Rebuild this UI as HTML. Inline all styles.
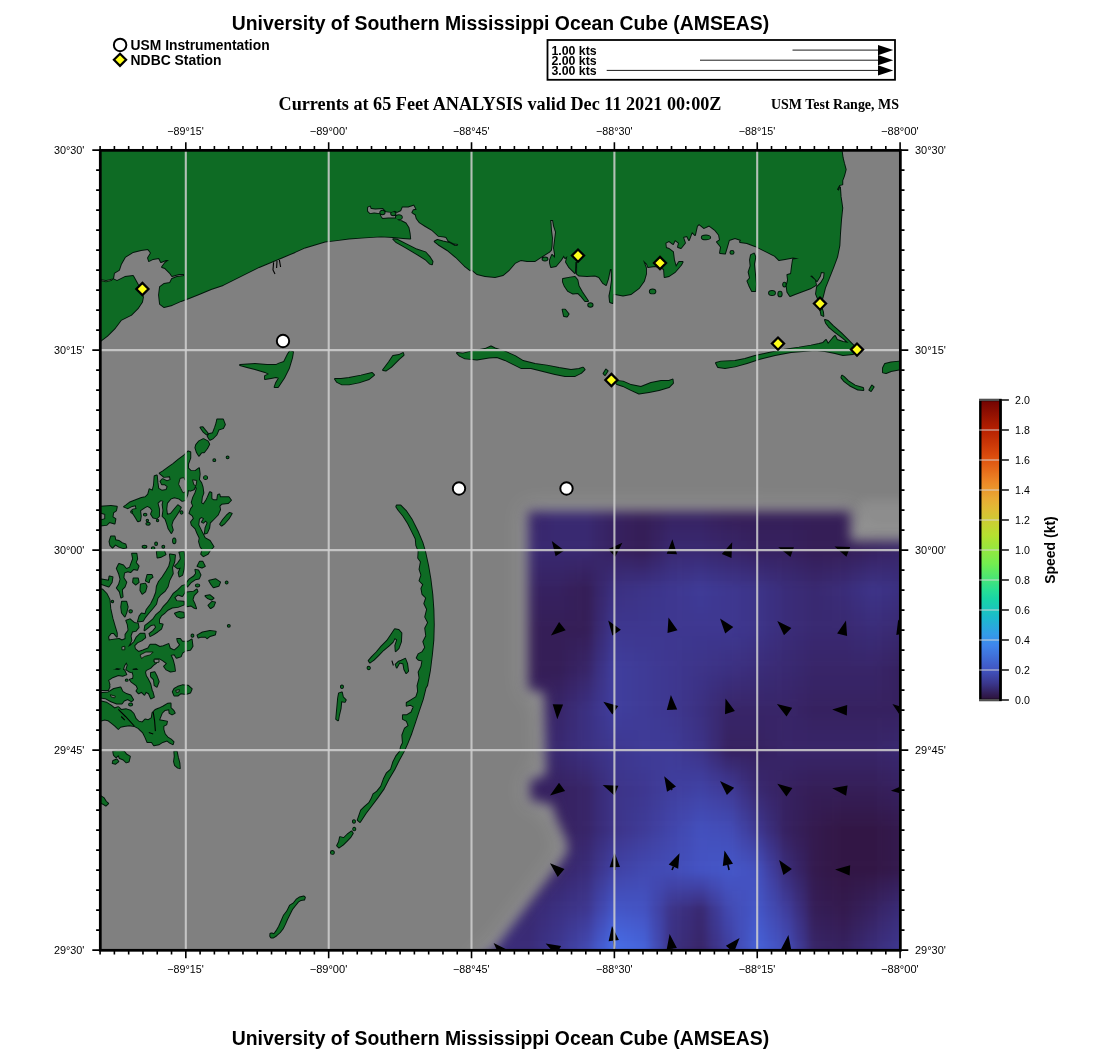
<!DOCTYPE html>
<html><head><meta charset="utf-8"><title>USM Ocean Cube</title>
<style>
html,body{margin:0;padding:0;background:#fff;}
body{width:1100px;height:1050px;overflow:hidden;position:relative;font-family:"Liberation Sans",sans-serif;}
svg{position:absolute;left:0;top:0;}
.t{font-family:"Liberation Sans",sans-serif;font-weight:bold;fill:#000;}
.s{font-family:"Liberation Serif",serif;font-weight:bold;fill:#000;}
.a{font-family:"Liberation Sans",sans-serif;font-size:10.8px;fill:#000;}
</style></head><body>
<svg width="1100" height="1050" viewBox="0 0 1100 1050">
<rect width="1100" height="1050" fill="#fff"/>
<text class="t" x="231.7" y="30.2" font-size="19.4" textLength="537.5" lengthAdjust="spacingAndGlyphs">University of Southern Mississippi Ocean Cube (AMSEAS)</text>
<text class="t" x="231.7" y="1045.2" font-size="19.4" textLength="537.5" lengthAdjust="spacingAndGlyphs">University of Southern Mississippi Ocean Cube (AMSEAS)</text>
<circle cx="120.1" cy="44.9" r="6.25" fill="#fff" stroke="#000" stroke-width="1.95"/>
<path d="M120 53.7L126.1 59.8L120 65.9L113.9 59.8Z" fill="#ffff1a" stroke="#000" stroke-width="2.2"/>
<text class="t" x="130.6" y="50.3" font-size="13.8" textLength="139" lengthAdjust="spacingAndGlyphs">USM Instrumentation</text>
<text class="t" x="130.6" y="64.8" font-size="13.8" textLength="91" lengthAdjust="spacingAndGlyphs">NDBC Station</text>
<rect x="547.5" y="40" width="347.5" height="39.8" fill="#fff" stroke="#000" stroke-width="1.8"/>
<text class="t" x="551.4" y="54.9" font-size="12.35" textLength="45.3" lengthAdjust="spacingAndGlyphs">1.00 kts</text>
<path d="M792.5 50.1H882" stroke="#000" stroke-width="0.9" fill="none"/>
<path d="M893.2 50.1L878 45.0V55.2Z" fill="#000"/>
<text class="t" x="551.4" y="64.9" font-size="12.35" textLength="45.3" lengthAdjust="spacingAndGlyphs">2.00 kts</text>
<path d="M700.0 60.2H882" stroke="#000" stroke-width="0.9" fill="none"/>
<path d="M893.2 60.2L878 55.1V65.3Z" fill="#000"/>
<text class="t" x="551.4" y="74.9" font-size="12.35" textLength="45.3" lengthAdjust="spacingAndGlyphs">3.00 kts</text>
<path d="M606.7 70.4H882" stroke="#000" stroke-width="0.9" fill="none"/>
<path d="M893.2 70.4L878 65.30000000000001V75.5Z" fill="#000"/>
<text class="s" x="278.5" y="109.7" font-size="18.2" textLength="443" lengthAdjust="spacingAndGlyphs">Currents at 65 Feet ANALYSIS valid Dec 11 2021 00:00Z</text>
<text class="s" x="771" y="108.8" font-size="13.95" textLength="128" lengthAdjust="spacingAndGlyphs">USM Test Range, MS</text>
<defs><clipPath id="mc"><rect x="100.3" y="150.3" width="800" height="800"/></clipPath>
<linearGradient id="cb" x1="0" y1="1" x2="0" y2="0"><stop offset="0" stop-color="#30123b"/><stop offset="0.055" stop-color="#3f3b97"/><stop offset="0.0909" stop-color="#4454c4"/><stop offset="0.111" stop-color="#4662d7"/><stop offset="0.1818" stop-color="#4490fe"/><stop offset="0.222" stop-color="#36aaf9"/><stop offset="0.2727" stop-color="#1fc8de"/><stop offset="0.333" stop-color="#1ae4b6"/><stop offset="0.3636" stop-color="#29efa2"/><stop offset="0.444" stop-color="#72fe5e"/><stop offset="0.4545" stop-color="#7dff56"/><stop offset="0.5455" stop-color="#c1f334"/><stop offset="0.556" stop-color="#c7ef34"/><stop offset="0.6364" stop-color="#f1ca3a"/><stop offset="0.667" stop-color="#faba39"/><stop offset="0.7273" stop-color="#fe922a"/><stop offset="0.778" stop-color="#f66b19"/><stop offset="0.8182" stop-color="#ea4f0d"/><stop offset="0.889" stop-color="#cb2a04"/><stop offset="0.9091" stop-color="#be2102"/><stop offset="1.0" stop-color="#7a0403"/></linearGradient></defs>
<g clip-path="url(#mc)">
<rect x="100" y="149" width="802" height="802" fill="#808080"/>
<!--FIELD-->
<defs><filter id="fb" color-interpolation-filters="sRGB" x="-10%" y="-10%" width="120%" height="120%"><feGaussianBlur stdDeviation="5"/></filter><filter id="mb" color-interpolation-filters="sRGB" x="-20%" y="-20%" width="140%" height="140%"><feGaussianBlur stdDeviation="6"/></filter><filter id="hb" color-interpolation-filters="sRGB" x="-20%" y="-20%" width="140%" height="140%"><feGaussianBlur stdDeviation="11"/></filter><mask id="fm" maskUnits="userSpaceOnUse" x="440" y="460" width="520" height="540"><g filter="url(#mb)"><path d="M528 511H850.5V541H960V1000H476V961L494 949L562 860L568 850L566 840L556 818L552 805L530 800V780L546 775L544 693L528 689Z" fill="#fff"/></g></mask></defs>
<path d="M528 511H850.5V541H960V1000H476V961L494 949L562 860L568 850L566 840L556 818L552 805L530 800V780L546 775L544 693L528 689Z" fill="#fff" stroke="#fff" stroke-width="8" opacity="0.2" filter="url(#hb)"/><rect x="860" y="500" width="60" height="34" fill="#fff" opacity="0.1" filter="url(#mb)"/><g mask="url(#fm)"><g filter="url(#fb)"><rect x="422.0" y="463.3" width="114.9" height="53.9" fill="#382568"/><rect x="536.2" y="463.3" width="14.9" height="53.9" fill="#38276d"/><rect x="550.5" y="463.3" width="43.5" height="53.9" fill="#392971"/><rect x="593.4" y="463.3" width="14.9" height="53.9" fill="#382568"/><rect x="607.7" y="463.3" width="14.9" height="53.9" fill="#362160"/><rect x="622.0" y="463.3" width="14.9" height="53.9" fill="#361f5b"/><rect x="636.2" y="463.3" width="14.9" height="53.9" fill="#351e57"/><rect x="650.5" y="463.3" width="14.9" height="53.9" fill="#361f5b"/><rect x="664.8" y="463.3" width="43.5" height="53.9" fill="#362160"/><rect x="707.7" y="463.3" width="14.9" height="53.9" fill="#361f5b"/><rect x="721.9" y="463.3" width="157.7" height="53.9" fill="#351e57"/><rect x="879.1" y="463.3" width="14.9" height="53.9" fill="#361f5b"/><rect x="893.4" y="463.3" width="74.9" height="53.9" fill="#362160"/><rect x="422.0" y="516.7" width="114.9" height="13.9" fill="#38266b"/><rect x="536.2" y="516.7" width="14.9" height="13.9" fill="#39276e"/><rect x="550.5" y="516.7" width="43.5" height="13.9" fill="#392971"/><rect x="593.4" y="516.7" width="14.9" height="13.9" fill="#382568"/><rect x="607.7" y="516.7" width="14.9" height="13.9" fill="#362160"/><rect x="622.0" y="516.7" width="14.9" height="13.9" fill="#361f5b"/><rect x="636.2" y="516.7" width="14.9" height="13.9" fill="#351e57"/><rect x="650.5" y="516.7" width="14.9" height="13.9" fill="#36215e"/><rect x="664.8" y="516.7" width="43.5" height="13.9" fill="#372466"/><rect x="707.7" y="516.7" width="14.9" height="13.9" fill="#372261"/><rect x="721.9" y="516.7" width="14.9" height="13.9" fill="#36205d"/><rect x="736.2" y="516.7" width="14.9" height="13.9" fill="#361f5b"/><rect x="750.5" y="516.7" width="43.5" height="13.9" fill="#351f5a"/><rect x="793.4" y="516.7" width="14.9" height="13.9" fill="#351e59"/><rect x="807.7" y="516.7" width="43.5" height="13.9" fill="#351e57"/><rect x="850.5" y="516.7" width="14.9" height="13.9" fill="#351e59"/><rect x="864.8" y="516.7" width="14.9" height="13.9" fill="#351f5a"/><rect x="879.1" y="516.7" width="14.9" height="13.9" fill="#36215e"/><rect x="893.4" y="516.7" width="74.9" height="13.9" fill="#372363"/><rect x="422.0" y="530.0" width="114.9" height="13.9" fill="#39276e"/><rect x="536.2" y="530.0" width="14.9" height="13.9" fill="#39286f"/><rect x="550.5" y="530.0" width="43.5" height="13.9" fill="#392971"/><rect x="593.4" y="530.0" width="14.9" height="13.9" fill="#382568"/><rect x="607.7" y="530.0" width="14.9" height="13.9" fill="#362160"/><rect x="622.0" y="530.0" width="14.9" height="13.9" fill="#361f5b"/><rect x="636.2" y="530.0" width="14.9" height="13.9" fill="#351e57"/><rect x="650.5" y="530.0" width="14.9" height="13.9" fill="#372261"/><rect x="664.8" y="530.0" width="43.5" height="13.9" fill="#38266b"/><rect x="707.7" y="530.0" width="14.9" height="13.9" fill="#382467"/><rect x="721.9" y="530.0" width="14.9" height="13.9" fill="#372363"/><rect x="736.2" y="530.0" width="14.9" height="13.9" fill="#362160"/><rect x="750.5" y="530.0" width="43.5" height="13.9" fill="#36205d"/><rect x="793.4" y="530.0" width="14.9" height="13.9" fill="#351f5a"/><rect x="807.7" y="530.0" width="43.5" height="13.9" fill="#351e57"/><rect x="850.5" y="530.0" width="14.9" height="13.9" fill="#351f5a"/><rect x="864.8" y="530.0" width="14.9" height="13.9" fill="#36205d"/><rect x="879.1" y="530.0" width="14.9" height="13.9" fill="#372261"/><rect x="893.4" y="530.0" width="74.9" height="13.9" fill="#372466"/><rect x="422.0" y="543.3" width="172.0" height="13.9" fill="#392971"/><rect x="593.4" y="543.3" width="14.9" height="13.9" fill="#382568"/><rect x="607.7" y="543.3" width="14.9" height="13.9" fill="#362160"/><rect x="622.0" y="543.3" width="14.9" height="13.9" fill="#361f5b"/><rect x="636.2" y="543.3" width="14.9" height="13.9" fill="#351e57"/><rect x="650.5" y="543.3" width="14.9" height="13.9" fill="#372364"/><rect x="664.8" y="543.3" width="43.5" height="13.9" fill="#392971"/><rect x="707.7" y="543.3" width="14.9" height="13.9" fill="#38276d"/><rect x="721.9" y="543.3" width="14.9" height="13.9" fill="#382568"/><rect x="736.2" y="543.3" width="14.9" height="13.9" fill="#372364"/><rect x="750.5" y="543.3" width="43.5" height="13.9" fill="#362160"/><rect x="793.4" y="543.3" width="14.9" height="13.9" fill="#361f5b"/><rect x="807.7" y="543.3" width="43.5" height="13.9" fill="#351e57"/><rect x="850.5" y="543.3" width="14.9" height="13.9" fill="#361f5b"/><rect x="864.8" y="543.3" width="14.9" height="13.9" fill="#362160"/><rect x="879.1" y="543.3" width="14.9" height="13.9" fill="#372364"/><rect x="893.4" y="543.3" width="74.9" height="13.9" fill="#382568"/><rect x="422.0" y="556.7" width="143.5" height="13.9" fill="#38266b"/><rect x="564.8" y="556.7" width="14.9" height="13.9" fill="#38266a"/><rect x="579.1" y="556.7" width="14.9" height="13.9" fill="#382568"/><rect x="593.4" y="556.7" width="14.9" height="13.9" fill="#38266a"/><rect x="607.7" y="556.7" width="14.9" height="13.9" fill="#38266b"/><rect x="622.0" y="556.7" width="14.9" height="13.9" fill="#38266a"/><rect x="636.2" y="556.7" width="14.9" height="13.9" fill="#382568"/><rect x="650.5" y="556.7" width="14.9" height="13.9" fill="#392972"/><rect x="664.8" y="556.7" width="14.9" height="13.9" fill="#3b2e7b"/><rect x="679.1" y="556.7" width="14.9" height="13.9" fill="#3b2e7d"/><rect x="693.4" y="556.7" width="14.9" height="13.9" fill="#3b2f7e"/><rect x="707.7" y="556.7" width="14.9" height="13.9" fill="#3a2d7a"/><rect x="721.9" y="556.7" width="14.9" height="13.9" fill="#3a2b76"/><rect x="736.2" y="556.7" width="14.9" height="13.9" fill="#392972"/><rect x="750.5" y="556.7" width="14.9" height="13.9" fill="#39276e"/><rect x="764.8" y="556.7" width="14.9" height="13.9" fill="#38266b"/><rect x="779.1" y="556.7" width="14.9" height="13.9" fill="#382568"/><rect x="793.4" y="556.7" width="14.9" height="13.9" fill="#372364"/><rect x="807.7" y="556.7" width="14.9" height="13.9" fill="#362160"/><rect x="821.9" y="556.7" width="14.9" height="13.9" fill="#372261"/><rect x="836.2" y="556.7" width="14.9" height="13.9" fill="#372363"/><rect x="850.5" y="556.7" width="14.9" height="13.9" fill="#382568"/><rect x="864.8" y="556.7" width="14.9" height="13.9" fill="#39276e"/><rect x="879.1" y="556.7" width="14.9" height="13.9" fill="#39286f"/><rect x="893.4" y="556.7" width="74.9" height="13.9" fill="#392971"/><rect x="422.0" y="570.0" width="143.5" height="13.9" fill="#372466"/><rect x="564.8" y="570.0" width="14.9" height="13.9" fill="#372363"/><rect x="579.1" y="570.0" width="14.9" height="13.9" fill="#362160"/><rect x="593.4" y="570.0" width="14.9" height="13.9" fill="#38266b"/><rect x="607.7" y="570.0" width="14.9" height="13.9" fill="#3a2b76"/><rect x="622.0" y="570.0" width="14.9" height="13.9" fill="#3a2c78"/><rect x="636.2" y="570.0" width="14.9" height="13.9" fill="#3a2c79"/><rect x="650.5" y="570.0" width="14.9" height="13.9" fill="#3b2f7f"/><rect x="664.8" y="570.0" width="14.9" height="13.9" fill="#3c3286"/><rect x="679.1" y="570.0" width="14.9" height="13.9" fill="#3d3488"/><rect x="693.4" y="570.0" width="14.9" height="13.9" fill="#3d358b"/><rect x="707.7" y="570.0" width="14.9" height="13.9" fill="#3c3387"/><rect x="721.9" y="570.0" width="14.9" height="13.9" fill="#3c3183"/><rect x="736.2" y="570.0" width="14.9" height="13.9" fill="#3b2f7f"/><rect x="750.5" y="570.0" width="14.9" height="13.9" fill="#3b2e7b"/><rect x="764.8" y="570.0" width="14.9" height="13.9" fill="#3a2b76"/><rect x="779.1" y="570.0" width="14.9" height="13.9" fill="#392971"/><rect x="793.4" y="570.0" width="14.9" height="13.9" fill="#38276d"/><rect x="807.7" y="570.0" width="14.9" height="13.9" fill="#382568"/><rect x="821.9" y="570.0" width="14.9" height="13.9" fill="#38266b"/><rect x="836.2" y="570.0" width="14.9" height="13.9" fill="#39276e"/><rect x="850.5" y="570.0" width="14.9" height="13.9" fill="#3a2b75"/><rect x="864.8" y="570.0" width="14.9" height="13.9" fill="#3b2e7b"/><rect x="879.1" y="570.0" width="14.9" height="13.9" fill="#3a2d7a"/><rect x="893.4" y="570.0" width="74.9" height="13.9" fill="#3a2c79"/><rect x="422.0" y="583.3" width="143.5" height="13.9" fill="#362160"/><rect x="564.8" y="583.3" width="14.9" height="13.9" fill="#361f5b"/><rect x="579.1" y="583.3" width="14.9" height="13.9" fill="#351e57"/><rect x="593.4" y="583.3" width="14.9" height="13.9" fill="#38276d"/><rect x="607.7" y="583.3" width="14.9" height="13.9" fill="#3b3081"/><rect x="622.0" y="583.3" width="14.9" height="13.9" fill="#3c3285"/><rect x="636.2" y="583.3" width="14.9" height="13.9" fill="#3d3488"/><rect x="650.5" y="583.3" width="14.9" height="13.9" fill="#3d358c"/><rect x="664.8" y="583.3" width="14.9" height="13.9" fill="#3e3790"/><rect x="679.1" y="583.3" width="14.9" height="13.9" fill="#3e3993"/><rect x="693.4" y="583.3" width="14.9" height="13.9" fill="#3f3b97"/><rect x="707.7" y="583.3" width="14.9" height="13.9" fill="#3e3993"/><rect x="721.9" y="583.3" width="14.9" height="13.9" fill="#3e3790"/><rect x="736.2" y="583.3" width="14.9" height="13.9" fill="#3d358c"/><rect x="750.5" y="583.3" width="14.9" height="13.9" fill="#3d3488"/><rect x="764.8" y="583.3" width="14.9" height="13.9" fill="#3b3081"/><rect x="779.1" y="583.3" width="14.9" height="13.9" fill="#3a2c79"/><rect x="793.4" y="583.3" width="14.9" height="13.9" fill="#3a2b75"/><rect x="807.7" y="583.3" width="14.9" height="13.9" fill="#392971"/><rect x="821.9" y="583.3" width="14.9" height="13.9" fill="#3a2b75"/><rect x="836.2" y="583.3" width="14.9" height="13.9" fill="#3a2c79"/><rect x="850.5" y="583.3" width="14.9" height="13.9" fill="#3b3081"/><rect x="864.8" y="583.3" width="14.9" height="13.9" fill="#3d3488"/><rect x="879.1" y="583.3" width="14.9" height="13.9" fill="#3c3285"/><rect x="893.4" y="583.3" width="74.9" height="13.9" fill="#3b3081"/><rect x="422.0" y="596.7" width="143.5" height="13.9" fill="#36205d"/><rect x="564.8" y="596.7" width="14.9" height="13.9" fill="#351f5a"/><rect x="579.1" y="596.7" width="14.9" height="13.9" fill="#351e57"/><rect x="593.4" y="596.7" width="14.9" height="13.9" fill="#39286f"/><rect x="607.7" y="596.7" width="14.9" height="13.9" fill="#3c3286"/><rect x="622.0" y="596.7" width="14.9" height="13.9" fill="#3d3488"/><rect x="636.2" y="596.7" width="14.9" height="13.9" fill="#3d358b"/><rect x="650.5" y="596.7" width="14.9" height="13.9" fill="#3d368d"/><rect x="664.8" y="596.7" width="14.9" height="13.9" fill="#3e3790"/><rect x="679.1" y="596.7" width="14.9" height="13.9" fill="#3e3892"/><rect x="693.4" y="596.7" width="14.9" height="13.9" fill="#3e3a95"/><rect x="707.7" y="596.7" width="14.9" height="13.9" fill="#3e3892"/><rect x="721.9" y="596.7" width="14.9" height="13.9" fill="#3e3790"/><rect x="736.2" y="596.7" width="14.9" height="13.9" fill="#3d358c"/><rect x="750.5" y="596.7" width="14.9" height="13.9" fill="#3d3488"/><rect x="764.8" y="596.7" width="14.9" height="13.9" fill="#3b3081"/><rect x="779.1" y="596.7" width="14.9" height="13.9" fill="#3a2c79"/><rect x="793.4" y="596.7" width="14.9" height="13.9" fill="#3a2b75"/><rect x="807.7" y="596.7" width="14.9" height="13.9" fill="#392971"/><rect x="821.9" y="596.7" width="14.9" height="13.9" fill="#392a73"/><rect x="836.2" y="596.7" width="14.9" height="13.9" fill="#3a2b76"/><rect x="850.5" y="596.7" width="14.9" height="13.9" fill="#3b2e7d"/><rect x="864.8" y="596.7" width="14.9" height="13.9" fill="#3c3183"/><rect x="879.1" y="596.7" width="14.9" height="13.9" fill="#3b2f7f"/><rect x="893.4" y="596.7" width="74.9" height="13.9" fill="#3b2e7b"/><rect x="422.0" y="610.0" width="143.5" height="13.9" fill="#351f5a"/><rect x="564.8" y="610.0" width="14.9" height="13.9" fill="#351e59"/><rect x="579.1" y="610.0" width="14.9" height="13.9" fill="#351e57"/><rect x="593.4" y="610.0" width="14.9" height="13.9" fill="#392972"/><rect x="607.7" y="610.0" width="14.9" height="13.9" fill="#3d358b"/><rect x="622.0" y="610.0" width="14.9" height="13.9" fill="#3d358c"/><rect x="636.2" y="610.0" width="14.9" height="13.9" fill="#3d368d"/><rect x="650.5" y="610.0" width="14.9" height="13.9" fill="#3d378f"/><rect x="664.8" y="610.0" width="14.9" height="13.9" fill="#3e3790"/><rect x="679.1" y="610.0" width="14.9" height="13.9" fill="#3e3891"/><rect x="693.4" y="610.0" width="14.9" height="13.9" fill="#3e3892"/><rect x="707.7" y="610.0" width="14.9" height="13.9" fill="#3e3891"/><rect x="721.9" y="610.0" width="14.9" height="13.9" fill="#3e3790"/><rect x="736.2" y="610.0" width="14.9" height="13.9" fill="#3d358c"/><rect x="750.5" y="610.0" width="14.9" height="13.9" fill="#3d3488"/><rect x="764.8" y="610.0" width="14.9" height="13.9" fill="#3b3081"/><rect x="779.1" y="610.0" width="14.9" height="13.9" fill="#3a2c79"/><rect x="793.4" y="610.0" width="14.9" height="13.9" fill="#3a2b75"/><rect x="807.7" y="610.0" width="14.9" height="13.9" fill="#392971"/><rect x="821.9" y="610.0" width="14.9" height="13.9" fill="#392972"/><rect x="836.2" y="610.0" width="14.9" height="13.9" fill="#392a73"/><rect x="850.5" y="610.0" width="14.9" height="13.9" fill="#3a2c79"/><rect x="864.8" y="610.0" width="14.9" height="13.9" fill="#3b2f7e"/><rect x="879.1" y="610.0" width="14.9" height="13.9" fill="#3a2d7a"/><rect x="893.4" y="610.0" width="74.9" height="13.9" fill="#3a2b76"/><rect x="422.0" y="623.3" width="172.0" height="13.9" fill="#351e57"/><rect x="593.4" y="623.3" width="14.9" height="13.9" fill="#3a2b75"/><rect x="607.7" y="623.3" width="129.2" height="13.9" fill="#3e3790"/><rect x="736.2" y="623.3" width="14.9" height="13.9" fill="#3d358c"/><rect x="750.5" y="623.3" width="14.9" height="13.9" fill="#3d3488"/><rect x="764.8" y="623.3" width="14.9" height="13.9" fill="#3b3081"/><rect x="779.1" y="623.3" width="14.9" height="13.9" fill="#3a2c79"/><rect x="793.4" y="623.3" width="14.9" height="13.9" fill="#3a2b75"/><rect x="807.7" y="623.3" width="43.5" height="13.9" fill="#392971"/><rect x="850.5" y="623.3" width="14.9" height="13.9" fill="#3a2b75"/><rect x="864.8" y="623.3" width="14.9" height="13.9" fill="#3a2c79"/><rect x="879.1" y="623.3" width="14.9" height="13.9" fill="#3a2b75"/><rect x="893.4" y="623.3" width="74.9" height="13.9" fill="#392971"/><rect x="422.0" y="636.7" width="143.5" height="13.9" fill="#351e57"/><rect x="564.8" y="636.7" width="14.9" height="13.9" fill="#351f5a"/><rect x="579.1" y="636.7" width="14.9" height="13.9" fill="#36205d"/><rect x="593.4" y="636.7" width="14.9" height="13.9" fill="#3a2d7a"/><rect x="607.7" y="636.7" width="14.9" height="13.9" fill="#3e3a95"/><rect x="622.0" y="636.7" width="14.9" height="13.9" fill="#3e3993"/><rect x="636.2" y="636.7" width="14.9" height="13.9" fill="#3e3892"/><rect x="650.5" y="636.7" width="14.9" height="13.9" fill="#3e3891"/><rect x="664.8" y="636.7" width="14.9" height="13.9" fill="#3e3790"/><rect x="679.1" y="636.7" width="14.9" height="13.9" fill="#3d378f"/><rect x="693.4" y="636.7" width="14.9" height="13.9" fill="#3d368d"/><rect x="707.7" y="636.7" width="14.9" height="13.9" fill="#3d358c"/><rect x="721.9" y="636.7" width="14.9" height="13.9" fill="#3d358b"/><rect x="736.2" y="636.7" width="14.9" height="13.9" fill="#3c3387"/><rect x="750.5" y="636.7" width="14.9" height="13.9" fill="#3c3183"/><rect x="764.8" y="636.7" width="14.9" height="13.9" fill="#3b2e7d"/><rect x="779.1" y="636.7" width="14.9" height="13.9" fill="#3a2b76"/><rect x="793.4" y="636.7" width="14.9" height="13.9" fill="#392972"/><rect x="807.7" y="636.7" width="43.5" height="13.9" fill="#39276e"/><rect x="850.5" y="636.7" width="14.9" height="13.9" fill="#392971"/><rect x="864.8" y="636.7" width="14.9" height="13.9" fill="#392a73"/><rect x="879.1" y="636.7" width="14.9" height="13.9" fill="#39286f"/><rect x="893.4" y="636.7" width="74.9" height="13.9" fill="#38266b"/><rect x="422.0" y="650.0" width="143.5" height="13.9" fill="#351e57"/><rect x="564.8" y="650.0" width="14.9" height="13.9" fill="#36205d"/><rect x="579.1" y="650.0" width="14.9" height="13.9" fill="#372363"/><rect x="593.4" y="650.0" width="14.9" height="13.9" fill="#3b2f7f"/><rect x="607.7" y="650.0" width="14.9" height="13.9" fill="#3f3c99"/><rect x="622.0" y="650.0" width="14.9" height="13.9" fill="#3f3b97"/><rect x="636.2" y="650.0" width="14.9" height="13.9" fill="#3e3a95"/><rect x="650.5" y="650.0" width="14.9" height="13.9" fill="#3e3892"/><rect x="664.8" y="650.0" width="14.9" height="13.9" fill="#3e3790"/><rect x="679.1" y="650.0" width="14.9" height="13.9" fill="#3d368d"/><rect x="693.4" y="650.0" width="14.9" height="13.9" fill="#3d358b"/><rect x="707.7" y="650.0" width="14.9" height="13.9" fill="#3d3488"/><rect x="721.9" y="650.0" width="14.9" height="13.9" fill="#3c3286"/><rect x="736.2" y="650.0" width="14.9" height="13.9" fill="#3c3182"/><rect x="750.5" y="650.0" width="14.9" height="13.9" fill="#3b2f7e"/><rect x="764.8" y="650.0" width="14.9" height="13.9" fill="#3a2c79"/><rect x="779.1" y="650.0" width="14.9" height="13.9" fill="#392a73"/><rect x="793.4" y="650.0" width="14.9" height="13.9" fill="#39286f"/><rect x="807.7" y="650.0" width="43.5" height="13.9" fill="#38266b"/><rect x="850.5" y="650.0" width="14.9" height="13.9" fill="#38276d"/><rect x="864.8" y="650.0" width="14.9" height="13.9" fill="#39276e"/><rect x="879.1" y="650.0" width="14.9" height="13.9" fill="#38266a"/><rect x="893.4" y="650.0" width="74.9" height="13.9" fill="#372466"/><rect x="422.0" y="663.3" width="143.5" height="13.9" fill="#351e57"/><rect x="564.8" y="663.3" width="14.9" height="13.9" fill="#362160"/><rect x="579.1" y="663.3" width="14.9" height="13.9" fill="#382568"/><rect x="593.4" y="663.3" width="14.9" height="13.9" fill="#3c3285"/><rect x="607.7" y="663.3" width="14.9" height="13.9" fill="#403e9e"/><rect x="622.0" y="663.3" width="14.9" height="13.9" fill="#3f3d9a"/><rect x="636.2" y="663.3" width="14.9" height="13.9" fill="#3f3b97"/><rect x="650.5" y="663.3" width="14.9" height="13.9" fill="#3e3993"/><rect x="664.8" y="663.3" width="14.9" height="13.9" fill="#3e3790"/><rect x="679.1" y="663.3" width="14.9" height="13.9" fill="#3d358c"/><rect x="693.4" y="663.3" width="14.9" height="13.9" fill="#3d3488"/><rect x="707.7" y="663.3" width="14.9" height="13.9" fill="#3c3285"/><rect x="721.9" y="663.3" width="14.9" height="13.9" fill="#3b3081"/><rect x="736.2" y="663.3" width="14.9" height="13.9" fill="#3b2e7d"/><rect x="750.5" y="663.3" width="14.9" height="13.9" fill="#3a2c79"/><rect x="764.8" y="663.3" width="14.9" height="13.9" fill="#3a2b75"/><rect x="779.1" y="663.3" width="14.9" height="13.9" fill="#392971"/><rect x="793.4" y="663.3" width="14.9" height="13.9" fill="#38276d"/><rect x="807.7" y="663.3" width="72.0" height="13.9" fill="#382568"/><rect x="879.1" y="663.3" width="14.9" height="13.9" fill="#372364"/><rect x="893.4" y="663.3" width="74.9" height="13.9" fill="#362160"/><rect x="422.0" y="676.7" width="114.9" height="13.9" fill="#351f5a"/><rect x="536.2" y="676.7" width="14.9" height="13.9" fill="#361f5b"/><rect x="550.5" y="676.7" width="14.9" height="13.9" fill="#36205d"/><rect x="564.8" y="676.7" width="14.9" height="13.9" fill="#382467"/><rect x="579.1" y="676.7" width="14.9" height="13.9" fill="#392971"/><rect x="593.4" y="676.7" width="14.9" height="13.9" fill="#3d3488"/><rect x="607.7" y="676.7" width="14.9" height="13.9" fill="#403e9e"/><rect x="622.0" y="676.7" width="14.9" height="13.9" fill="#3f3d9a"/><rect x="636.2" y="676.7" width="14.9" height="13.9" fill="#3f3b97"/><rect x="650.5" y="676.7" width="14.9" height="13.9" fill="#3e3993"/><rect x="664.8" y="676.7" width="14.9" height="13.9" fill="#3e3790"/><rect x="679.1" y="676.7" width="14.9" height="13.9" fill="#3d358b"/><rect x="693.4" y="676.7" width="14.9" height="13.9" fill="#3c3286"/><rect x="707.7" y="676.7" width="14.9" height="13.9" fill="#3b2f7f"/><rect x="721.9" y="676.7" width="14.9" height="13.9" fill="#3a2c79"/><rect x="736.2" y="676.7" width="14.9" height="13.9" fill="#3a2b76"/><rect x="750.5" y="676.7" width="14.9" height="13.9" fill="#392a73"/><rect x="764.8" y="676.7" width="14.9" height="13.9" fill="#392971"/><rect x="779.1" y="676.7" width="14.9" height="13.9" fill="#39276e"/><rect x="793.4" y="676.7" width="14.9" height="13.9" fill="#38266a"/><rect x="807.7" y="676.7" width="72.0" height="13.9" fill="#372466"/><rect x="879.1" y="676.7" width="14.9" height="13.9" fill="#372363"/><rect x="893.4" y="676.7" width="74.9" height="13.9" fill="#362160"/><rect x="422.0" y="690.0" width="114.9" height="13.9" fill="#36205d"/><rect x="536.2" y="690.0" width="14.9" height="13.9" fill="#362160"/><rect x="550.5" y="690.0" width="14.9" height="13.9" fill="#372363"/><rect x="564.8" y="690.0" width="14.9" height="13.9" fill="#39276e"/><rect x="579.1" y="690.0" width="14.9" height="13.9" fill="#3a2c79"/><rect x="593.4" y="690.0" width="14.9" height="13.9" fill="#3d358c"/><rect x="607.7" y="690.0" width="14.9" height="13.9" fill="#403e9e"/><rect x="622.0" y="690.0" width="14.9" height="13.9" fill="#3f3d9a"/><rect x="636.2" y="690.0" width="14.9" height="13.9" fill="#3f3b97"/><rect x="650.5" y="690.0" width="14.9" height="13.9" fill="#3e3993"/><rect x="664.8" y="690.0" width="14.9" height="13.9" fill="#3e3790"/><rect x="679.1" y="690.0" width="14.9" height="13.9" fill="#3d348a"/><rect x="693.4" y="690.0" width="14.9" height="13.9" fill="#3c3183"/><rect x="707.7" y="690.0" width="14.9" height="13.9" fill="#3a2d7a"/><rect x="721.9" y="690.0" width="14.9" height="13.9" fill="#392971"/><rect x="736.2" y="690.0" width="14.9" height="13.9" fill="#39286f"/><rect x="750.5" y="690.0" width="14.9" height="13.9" fill="#39276e"/><rect x="764.8" y="690.0" width="14.9" height="13.9" fill="#38276d"/><rect x="779.1" y="690.0" width="14.9" height="13.9" fill="#38266b"/><rect x="793.4" y="690.0" width="14.9" height="13.9" fill="#382467"/><rect x="807.7" y="690.0" width="72.0" height="13.9" fill="#372363"/><rect x="879.1" y="690.0" width="14.9" height="13.9" fill="#372261"/><rect x="893.4" y="690.0" width="74.9" height="13.9" fill="#362160"/><rect x="422.0" y="703.3" width="114.9" height="13.9" fill="#362160"/><rect x="536.2" y="703.3" width="14.9" height="13.9" fill="#372364"/><rect x="550.5" y="703.3" width="14.9" height="13.9" fill="#382568"/><rect x="564.8" y="703.3" width="14.9" height="13.9" fill="#3a2b75"/><rect x="579.1" y="703.3" width="14.9" height="13.9" fill="#3b3081"/><rect x="593.4" y="703.3" width="14.9" height="13.9" fill="#3e3790"/><rect x="607.7" y="703.3" width="14.9" height="13.9" fill="#403e9e"/><rect x="622.0" y="703.3" width="14.9" height="13.9" fill="#3f3d9a"/><rect x="636.2" y="703.3" width="14.9" height="13.9" fill="#3f3b97"/><rect x="650.5" y="703.3" width="14.9" height="13.9" fill="#3e3993"/><rect x="664.8" y="703.3" width="14.9" height="13.9" fill="#3e3790"/><rect x="679.1" y="703.3" width="14.9" height="13.9" fill="#3d3488"/><rect x="693.4" y="703.3" width="14.9" height="13.9" fill="#3b3081"/><rect x="707.7" y="703.3" width="14.9" height="13.9" fill="#3a2b75"/><rect x="721.9" y="703.3" width="72.0" height="13.9" fill="#382568"/><rect x="793.4" y="703.3" width="14.9" height="13.9" fill="#372364"/><rect x="807.7" y="703.3" width="160.6" height="13.9" fill="#362160"/><rect x="422.0" y="716.7" width="114.9" height="13.9" fill="#372363"/><rect x="536.2" y="716.7" width="14.9" height="13.9" fill="#382467"/><rect x="550.5" y="716.7" width="14.9" height="13.9" fill="#38266b"/><rect x="564.8" y="716.7" width="14.9" height="13.9" fill="#3a2b76"/><rect x="579.1" y="716.7" width="14.9" height="13.9" fill="#3b3081"/><rect x="593.4" y="716.7" width="14.9" height="13.9" fill="#3d368d"/><rect x="607.7" y="716.7" width="14.9" height="13.9" fill="#3f3c99"/><rect x="622.0" y="716.7" width="14.9" height="13.9" fill="#3f3b98"/><rect x="636.2" y="716.7" width="14.9" height="13.9" fill="#3f3b97"/><rect x="650.5" y="716.7" width="14.9" height="13.9" fill="#3e3a95"/><rect x="664.8" y="716.7" width="14.9" height="13.9" fill="#3e3892"/><rect x="679.1" y="716.7" width="14.9" height="13.9" fill="#3d358b"/><rect x="693.4" y="716.7" width="14.9" height="13.9" fill="#3c3183"/><rect x="707.7" y="716.7" width="14.9" height="13.9" fill="#3a2b75"/><rect x="721.9" y="716.7" width="43.5" height="13.9" fill="#372466"/><rect x="764.8" y="716.7" width="14.9" height="13.9" fill="#382467"/><rect x="779.1" y="716.7" width="14.9" height="13.9" fill="#382568"/><rect x="793.4" y="716.7" width="14.9" height="13.9" fill="#372466"/><rect x="807.7" y="716.7" width="72.0" height="13.9" fill="#372363"/><rect x="879.1" y="716.7" width="14.9" height="13.9" fill="#372364"/><rect x="893.4" y="716.7" width="74.9" height="13.9" fill="#372466"/><rect x="422.0" y="730.0" width="114.9" height="13.9" fill="#372466"/><rect x="536.2" y="730.0" width="14.9" height="13.9" fill="#38266a"/><rect x="550.5" y="730.0" width="14.9" height="13.9" fill="#39276e"/><rect x="564.8" y="730.0" width="14.9" height="13.9" fill="#3a2c78"/><rect x="579.1" y="730.0" width="14.9" height="13.9" fill="#3b3081"/><rect x="593.4" y="730.0" width="14.9" height="13.9" fill="#3d358b"/><rect x="607.7" y="730.0" width="14.9" height="13.9" fill="#3e3a95"/><rect x="622.0" y="730.0" width="14.9" height="13.9" fill="#3e3a96"/><rect x="636.2" y="730.0" width="14.9" height="13.9" fill="#3f3b97"/><rect x="650.5" y="730.0" width="14.9" height="13.9" fill="#3e3a96"/><rect x="664.8" y="730.0" width="14.9" height="13.9" fill="#3e3a95"/><rect x="679.1" y="730.0" width="14.9" height="13.9" fill="#3d368d"/><rect x="693.4" y="730.0" width="14.9" height="13.9" fill="#3c3286"/><rect x="707.7" y="730.0" width="14.9" height="13.9" fill="#3a2b75"/><rect x="721.9" y="730.0" width="43.5" height="13.9" fill="#372363"/><rect x="764.8" y="730.0" width="14.9" height="13.9" fill="#372466"/><rect x="779.1" y="730.0" width="14.9" height="13.9" fill="#382568"/><rect x="793.4" y="730.0" width="14.9" height="13.9" fill="#382467"/><rect x="807.7" y="730.0" width="72.0" height="13.9" fill="#372466"/><rect x="879.1" y="730.0" width="14.9" height="13.9" fill="#382568"/><rect x="893.4" y="730.0" width="74.9" height="13.9" fill="#38266b"/><rect x="422.0" y="743.3" width="114.9" height="13.9" fill="#382568"/><rect x="536.2" y="743.3" width="14.9" height="13.9" fill="#38276d"/><rect x="550.5" y="743.3" width="14.9" height="13.9" fill="#392971"/><rect x="564.8" y="743.3" width="14.9" height="13.9" fill="#3a2c79"/><rect x="579.1" y="743.3" width="14.9" height="13.9" fill="#3b3081"/><rect x="593.4" y="743.3" width="14.9" height="13.9" fill="#3d3488"/><rect x="607.7" y="743.3" width="14.9" height="13.9" fill="#3e3790"/><rect x="622.0" y="743.3" width="14.9" height="13.9" fill="#3e3993"/><rect x="636.2" y="743.3" width="43.5" height="13.9" fill="#3f3b97"/><rect x="679.1" y="743.3" width="14.9" height="13.9" fill="#3e3790"/><rect x="693.4" y="743.3" width="14.9" height="13.9" fill="#3d3488"/><rect x="707.7" y="743.3" width="14.9" height="13.9" fill="#3a2b75"/><rect x="721.9" y="743.3" width="43.5" height="13.9" fill="#362160"/><rect x="764.8" y="743.3" width="14.9" height="13.9" fill="#372364"/><rect x="779.1" y="743.3" width="100.6" height="13.9" fill="#382568"/><rect x="879.1" y="743.3" width="14.9" height="13.9" fill="#38276d"/><rect x="893.4" y="743.3" width="74.9" height="13.9" fill="#392971"/><rect x="422.0" y="756.7" width="114.9" height="13.9" fill="#372466"/><rect x="536.2" y="756.7" width="14.9" height="13.9" fill="#382568"/><rect x="550.5" y="756.7" width="14.9" height="13.9" fill="#38266b"/><rect x="564.8" y="756.7" width="14.9" height="13.9" fill="#392972"/><rect x="579.1" y="756.7" width="14.9" height="13.9" fill="#3a2c79"/><rect x="593.4" y="756.7" width="14.9" height="13.9" fill="#3c3183"/><rect x="607.7" y="756.7" width="14.9" height="13.9" fill="#3d368d"/><rect x="622.0" y="756.7" width="14.9" height="13.9" fill="#3e3891"/><rect x="636.2" y="756.7" width="14.9" height="13.9" fill="#3e3a95"/><rect x="650.5" y="756.7" width="14.9" height="13.9" fill="#3f3b97"/><rect x="664.8" y="756.7" width="14.9" height="13.9" fill="#3f3c99"/><rect x="679.1" y="756.7" width="14.9" height="13.9" fill="#3e3a96"/><rect x="693.4" y="756.7" width="14.9" height="13.9" fill="#3e3892"/><rect x="707.7" y="756.7" width="14.9" height="13.9" fill="#3c3183"/><rect x="721.9" y="756.7" width="14.9" height="13.9" fill="#392a73"/><rect x="736.2" y="756.7" width="14.9" height="13.9" fill="#38276d"/><rect x="750.5" y="756.7" width="43.5" height="13.9" fill="#372466"/><rect x="793.4" y="756.7" width="14.9" height="13.9" fill="#372364"/><rect x="807.7" y="756.7" width="72.0" height="13.9" fill="#372363"/><rect x="879.1" y="756.7" width="14.9" height="13.9" fill="#382467"/><rect x="893.4" y="756.7" width="74.9" height="13.9" fill="#38266b"/><rect x="422.0" y="770.0" width="114.9" height="13.9" fill="#372363"/><rect x="536.2" y="770.0" width="14.9" height="13.9" fill="#372364"/><rect x="550.5" y="770.0" width="14.9" height="13.9" fill="#372466"/><rect x="564.8" y="770.0" width="14.9" height="13.9" fill="#38266b"/><rect x="579.1" y="770.0" width="14.9" height="13.9" fill="#392971"/><rect x="593.4" y="770.0" width="14.9" height="13.9" fill="#3b2f7e"/><rect x="607.7" y="770.0" width="14.9" height="13.9" fill="#3d358b"/><rect x="622.0" y="770.0" width="14.9" height="13.9" fill="#3d378f"/><rect x="636.2" y="770.0" width="14.9" height="13.9" fill="#3e3892"/><rect x="650.5" y="770.0" width="14.9" height="13.9" fill="#3f3b97"/><rect x="664.8" y="770.0" width="43.5" height="13.9" fill="#3f3d9c"/><rect x="707.7" y="770.0" width="14.9" height="13.9" fill="#3e3891"/><rect x="721.9" y="770.0" width="14.9" height="13.9" fill="#3c3286"/><rect x="736.2" y="770.0" width="14.9" height="13.9" fill="#3a2c79"/><rect x="750.5" y="770.0" width="14.9" height="13.9" fill="#38266b"/><rect x="764.8" y="770.0" width="14.9" height="13.9" fill="#382467"/><rect x="779.1" y="770.0" width="14.9" height="13.9" fill="#372363"/><rect x="793.4" y="770.0" width="14.9" height="13.9" fill="#362160"/><rect x="807.7" y="770.0" width="72.0" height="13.9" fill="#36205d"/><rect x="879.1" y="770.0" width="14.9" height="13.9" fill="#372261"/><rect x="893.4" y="770.0" width="74.9" height="13.9" fill="#372466"/><rect x="422.0" y="783.3" width="143.5" height="13.9" fill="#362160"/><rect x="564.8" y="783.3" width="14.9" height="13.9" fill="#372364"/><rect x="579.1" y="783.3" width="14.9" height="13.9" fill="#382568"/><rect x="593.4" y="783.3" width="14.9" height="13.9" fill="#3a2c79"/><rect x="607.7" y="783.3" width="14.9" height="13.9" fill="#3d3488"/><rect x="622.0" y="783.3" width="14.9" height="13.9" fill="#3d358c"/><rect x="636.2" y="783.3" width="14.9" height="13.9" fill="#3e3790"/><rect x="650.5" y="783.3" width="14.9" height="13.9" fill="#3f3b97"/><rect x="664.8" y="783.3" width="14.9" height="13.9" fill="#403e9e"/><rect x="679.1" y="783.3" width="14.9" height="13.9" fill="#4040a1"/><rect x="693.4" y="783.3" width="14.9" height="13.9" fill="#4042a5"/><rect x="707.7" y="783.3" width="14.9" height="13.9" fill="#403e9e"/><rect x="721.9" y="783.3" width="14.9" height="13.9" fill="#3f3b97"/><rect x="736.2" y="783.3" width="14.9" height="13.9" fill="#3c3285"/><rect x="750.5" y="783.3" width="14.9" height="13.9" fill="#392971"/><rect x="764.8" y="783.3" width="14.9" height="13.9" fill="#382568"/><rect x="779.1" y="783.3" width="14.9" height="13.9" fill="#362160"/><rect x="793.4" y="783.3" width="14.9" height="13.9" fill="#361f5b"/><rect x="807.7" y="783.3" width="72.0" height="13.9" fill="#351e57"/><rect x="879.1" y="783.3" width="14.9" height="13.9" fill="#361f5b"/><rect x="893.4" y="783.3" width="74.9" height="13.9" fill="#362160"/><rect x="422.0" y="796.7" width="143.5" height="13.9" fill="#362160"/><rect x="564.8" y="796.7" width="14.9" height="13.9" fill="#372364"/><rect x="579.1" y="796.7" width="14.9" height="13.9" fill="#382568"/><rect x="593.4" y="796.7" width="14.9" height="13.9" fill="#3a2c79"/><rect x="607.7" y="796.7" width="14.9" height="13.9" fill="#3d3488"/><rect x="622.0" y="796.7" width="14.9" height="13.9" fill="#3d368d"/><rect x="636.2" y="796.7" width="14.9" height="13.9" fill="#3e3892"/><rect x="650.5" y="796.7" width="14.9" height="13.9" fill="#3f3d9a"/><rect x="664.8" y="796.7" width="14.9" height="13.9" fill="#4041a2"/><rect x="679.1" y="796.7" width="14.9" height="13.9" fill="#4144a8"/><rect x="693.4" y="796.7" width="14.9" height="13.9" fill="#4147ad"/><rect x="707.7" y="796.7" width="14.9" height="13.9" fill="#4144a8"/><rect x="721.9" y="796.7" width="14.9" height="13.9" fill="#4041a2"/><rect x="736.2" y="796.7" width="14.9" height="13.9" fill="#3e3790"/><rect x="750.5" y="796.7" width="14.9" height="13.9" fill="#3b2e7b"/><rect x="764.8" y="796.7" width="14.9" height="13.9" fill="#39276e"/><rect x="779.1" y="796.7" width="14.9" height="13.9" fill="#362160"/><rect x="793.4" y="796.7" width="14.9" height="13.9" fill="#351f5a"/><rect x="807.7" y="796.7" width="14.9" height="13.9" fill="#351c54"/><rect x="821.9" y="796.7" width="14.9" height="13.9" fill="#341c53"/><rect x="836.2" y="796.7" width="43.5" height="13.9" fill="#341b51"/><rect x="879.1" y="796.7" width="14.9" height="13.9" fill="#351d56"/><rect x="893.4" y="796.7" width="74.9" height="13.9" fill="#351f5a"/><rect x="422.0" y="810.0" width="143.5" height="13.9" fill="#362160"/><rect x="564.8" y="810.0" width="14.9" height="13.9" fill="#372364"/><rect x="579.1" y="810.0" width="14.9" height="13.9" fill="#382568"/><rect x="593.4" y="810.0" width="14.9" height="13.9" fill="#3a2c79"/><rect x="607.7" y="810.0" width="14.9" height="13.9" fill="#3d3488"/><rect x="622.0" y="810.0" width="14.9" height="13.9" fill="#3d378f"/><rect x="636.2" y="810.0" width="14.9" height="13.9" fill="#3e3a95"/><rect x="650.5" y="810.0" width="14.9" height="13.9" fill="#403e9e"/><rect x="664.8" y="810.0" width="14.9" height="13.9" fill="#4143a7"/><rect x="679.1" y="810.0" width="14.9" height="13.9" fill="#4247ae"/><rect x="693.4" y="810.0" width="14.9" height="13.9" fill="#424bb5"/><rect x="707.7" y="810.0" width="14.9" height="13.9" fill="#4249b1"/><rect x="721.9" y="810.0" width="14.9" height="13.9" fill="#4147ad"/><rect x="736.2" y="810.0" width="14.9" height="13.9" fill="#3f3d9a"/><rect x="750.5" y="810.0" width="14.9" height="13.9" fill="#3c3286"/><rect x="764.8" y="810.0" width="14.9" height="13.9" fill="#392a73"/><rect x="779.1" y="810.0" width="14.9" height="13.9" fill="#362160"/><rect x="793.4" y="810.0" width="14.9" height="13.9" fill="#351e59"/><rect x="807.7" y="810.0" width="14.9" height="13.9" fill="#341b51"/><rect x="821.9" y="810.0" width="14.9" height="13.9" fill="#341a4e"/><rect x="836.2" y="810.0" width="43.5" height="13.9" fill="#33194b"/><rect x="879.1" y="810.0" width="14.9" height="13.9" fill="#341a4f"/><rect x="893.4" y="810.0" width="74.9" height="13.9" fill="#351c54"/><rect x="422.0" y="823.3" width="143.5" height="13.9" fill="#362160"/><rect x="564.8" y="823.3" width="14.9" height="13.9" fill="#372364"/><rect x="579.1" y="823.3" width="14.9" height="13.9" fill="#382568"/><rect x="593.4" y="823.3" width="14.9" height="13.9" fill="#3a2c79"/><rect x="607.7" y="823.3" width="14.9" height="13.9" fill="#3d3488"/><rect x="622.0" y="823.3" width="14.9" height="13.9" fill="#3e3790"/><rect x="636.2" y="823.3" width="14.9" height="13.9" fill="#3f3b97"/><rect x="650.5" y="823.3" width="14.9" height="13.9" fill="#4040a1"/><rect x="664.8" y="823.3" width="14.9" height="13.9" fill="#4145ab"/><rect x="679.1" y="823.3" width="14.9" height="13.9" fill="#424bb4"/><rect x="693.4" y="823.3" width="14.9" height="13.9" fill="#4350bd"/><rect x="707.7" y="823.3" width="14.9" height="13.9" fill="#434eba"/><rect x="721.9" y="823.3" width="14.9" height="13.9" fill="#434cb7"/><rect x="736.2" y="823.3" width="14.9" height="13.9" fill="#4042a5"/><rect x="750.5" y="823.3" width="14.9" height="13.9" fill="#3e3790"/><rect x="764.8" y="823.3" width="14.9" height="13.9" fill="#3a2c79"/><rect x="779.1" y="823.3" width="14.9" height="13.9" fill="#362160"/><rect x="793.4" y="823.3" width="14.9" height="13.9" fill="#351e57"/><rect x="807.7" y="823.3" width="14.9" height="13.9" fill="#341a4e"/><rect x="821.9" y="823.3" width="14.9" height="13.9" fill="#331849"/><rect x="836.2" y="823.3" width="43.5" height="13.9" fill="#321645"/><rect x="879.1" y="823.3" width="14.9" height="13.9" fill="#331849"/><rect x="893.4" y="823.3" width="74.9" height="13.9" fill="#341a4e"/><rect x="422.0" y="836.7" width="114.9" height="13.9" fill="#362160"/><rect x="536.2" y="836.7" width="14.9" height="13.9" fill="#372261"/><rect x="550.5" y="836.7" width="14.9" height="13.9" fill="#372363"/><rect x="564.8" y="836.7" width="14.9" height="13.9" fill="#382568"/><rect x="579.1" y="836.7" width="14.9" height="13.9" fill="#39276e"/><rect x="593.4" y="836.7" width="14.9" height="13.9" fill="#3b3081"/><rect x="607.7" y="836.7" width="14.9" height="13.9" fill="#3e3892"/><rect x="622.0" y="836.7" width="14.9" height="13.9" fill="#3f3c99"/><rect x="636.2" y="836.7" width="14.9" height="13.9" fill="#4040a0"/><rect x="650.5" y="836.7" width="14.9" height="13.9" fill="#4144a8"/><rect x="664.8" y="836.7" width="14.9" height="13.9" fill="#4248af"/><rect x="679.1" y="836.7" width="14.9" height="13.9" fill="#434cb7"/><rect x="693.4" y="836.7" width="14.9" height="13.9" fill="#4451bf"/><rect x="707.7" y="836.7" width="14.9" height="13.9" fill="#4351be"/><rect x="721.9" y="836.7" width="14.9" height="13.9" fill="#4350bd"/><rect x="736.2" y="836.7" width="14.9" height="13.9" fill="#4248af"/><rect x="750.5" y="836.7" width="14.9" height="13.9" fill="#4040a0"/><rect x="764.8" y="836.7" width="14.9" height="13.9" fill="#3c3286"/><rect x="779.1" y="836.7" width="14.9" height="13.9" fill="#382568"/><rect x="793.4" y="836.7" width="14.9" height="13.9" fill="#361f5b"/><rect x="807.7" y="836.7" width="14.9" height="13.9" fill="#341a4e"/><rect x="821.9" y="836.7" width="14.9" height="13.9" fill="#331849"/><rect x="836.2" y="836.7" width="43.5" height="13.9" fill="#321645"/><rect x="879.1" y="836.7" width="14.9" height="13.9" fill="#331849"/><rect x="893.4" y="836.7" width="74.9" height="13.9" fill="#341a4e"/><rect x="422.0" y="850.0" width="114.9" height="13.9" fill="#362160"/><rect x="536.2" y="850.0" width="14.9" height="13.9" fill="#372363"/><rect x="550.5" y="850.0" width="14.9" height="13.9" fill="#372466"/><rect x="564.8" y="850.0" width="14.9" height="13.9" fill="#38276d"/><rect x="579.1" y="850.0" width="14.9" height="13.9" fill="#392a73"/><rect x="593.4" y="850.0" width="14.9" height="13.9" fill="#3d3488"/><rect x="607.7" y="850.0" width="14.9" height="13.9" fill="#3f3d9c"/><rect x="622.0" y="850.0" width="14.9" height="13.9" fill="#4041a2"/><rect x="636.2" y="850.0" width="14.9" height="13.9" fill="#4144a9"/><rect x="650.5" y="850.0" width="14.9" height="13.9" fill="#4247ae"/><rect x="664.8" y="850.0" width="14.9" height="13.9" fill="#424ab3"/><rect x="679.1" y="850.0" width="14.9" height="13.9" fill="#434eba"/><rect x="693.4" y="850.0" width="14.9" height="13.9" fill="#4452c1"/><rect x="707.7" y="850.0" width="14.9" height="13.9" fill="#4453c2"/><rect x="721.9" y="850.0" width="14.9" height="13.9" fill="#4453c3"/><rect x="736.2" y="850.0" width="14.9" height="13.9" fill="#434eb9"/><rect x="750.5" y="850.0" width="14.9" height="13.9" fill="#4248af"/><rect x="764.8" y="850.0" width="14.9" height="13.9" fill="#3e3892"/><rect x="779.1" y="850.0" width="14.9" height="13.9" fill="#392971"/><rect x="793.4" y="850.0" width="14.9" height="13.9" fill="#362160"/><rect x="807.7" y="850.0" width="14.9" height="13.9" fill="#341a4e"/><rect x="821.9" y="850.0" width="14.9" height="13.9" fill="#331849"/><rect x="836.2" y="850.0" width="43.5" height="13.9" fill="#321645"/><rect x="879.1" y="850.0" width="14.9" height="13.9" fill="#331849"/><rect x="893.4" y="850.0" width="74.9" height="13.9" fill="#341a4e"/><rect x="422.0" y="863.3" width="114.9" height="13.9" fill="#362160"/><rect x="536.2" y="863.3" width="14.9" height="13.9" fill="#372364"/><rect x="550.5" y="863.3" width="14.9" height="13.9" fill="#382568"/><rect x="564.8" y="863.3" width="14.9" height="13.9" fill="#392971"/><rect x="579.1" y="863.3" width="14.9" height="13.9" fill="#3a2c79"/><rect x="593.4" y="863.3" width="14.9" height="13.9" fill="#3e3790"/><rect x="607.7" y="863.3" width="14.9" height="13.9" fill="#4042a5"/><rect x="622.0" y="863.3" width="14.9" height="13.9" fill="#4145ab"/><rect x="636.2" y="863.3" width="14.9" height="13.9" fill="#4249b1"/><rect x="650.5" y="863.3" width="14.9" height="13.9" fill="#424bb4"/><rect x="664.8" y="863.3" width="14.9" height="13.9" fill="#434cb7"/><rect x="679.1" y="863.3" width="14.9" height="13.9" fill="#4350bd"/><rect x="693.4" y="863.3" width="14.9" height="13.9" fill="#4453c3"/><rect x="707.7" y="863.3" width="14.9" height="13.9" fill="#4455c5"/><rect x="721.9" y="863.3" width="14.9" height="13.9" fill="#4457c8"/><rect x="736.2" y="863.3" width="14.9" height="13.9" fill="#4453c3"/><rect x="750.5" y="863.3" width="14.9" height="13.9" fill="#4350bd"/><rect x="764.8" y="863.3" width="14.9" height="13.9" fill="#403e9e"/><rect x="779.1" y="863.3" width="14.9" height="13.9" fill="#3a2c79"/><rect x="793.4" y="863.3" width="14.9" height="13.9" fill="#372364"/><rect x="807.7" y="863.3" width="14.9" height="13.9" fill="#341a4e"/><rect x="821.9" y="863.3" width="14.9" height="13.9" fill="#331849"/><rect x="836.2" y="863.3" width="43.5" height="13.9" fill="#321645"/><rect x="879.1" y="863.3" width="14.9" height="13.9" fill="#331849"/><rect x="893.4" y="863.3" width="74.9" height="13.9" fill="#341a4e"/><rect x="422.0" y="876.7" width="114.9" height="13.9" fill="#372466"/><rect x="536.2" y="876.7" width="14.9" height="13.9" fill="#38266b"/><rect x="550.5" y="876.7" width="14.9" height="13.9" fill="#392971"/><rect x="564.8" y="876.7" width="14.9" height="13.9" fill="#3a2c79"/><rect x="579.1" y="876.7" width="14.9" height="13.9" fill="#3b3081"/><rect x="593.4" y="876.7" width="14.9" height="13.9" fill="#3f3d9a"/><rect x="607.7" y="876.7" width="14.9" height="13.9" fill="#4249b1"/><rect x="622.0" y="876.7" width="14.9" height="13.9" fill="#424bb4"/><rect x="636.2" y="876.7" width="14.9" height="13.9" fill="#434cb7"/><rect x="650.5" y="876.7" width="14.9" height="13.9" fill="#4248b0"/><rect x="664.8" y="876.7" width="14.9" height="13.9" fill="#4144a9"/><rect x="679.1" y="876.7" width="14.9" height="13.9" fill="#4145aa"/><rect x="693.4" y="876.7" width="14.9" height="13.9" fill="#4145ab"/><rect x="707.7" y="876.7" width="14.9" height="13.9" fill="#434cb6"/><rect x="721.9" y="876.7" width="43.5" height="13.9" fill="#4452c1"/><rect x="764.8" y="876.7" width="14.9" height="13.9" fill="#4143a6"/><rect x="779.1" y="876.7" width="14.9" height="13.9" fill="#3c3286"/><rect x="793.4" y="876.7" width="14.9" height="13.9" fill="#38276d"/><rect x="807.7" y="876.7" width="14.9" height="13.9" fill="#341b51"/><rect x="821.9" y="876.7" width="14.9" height="13.9" fill="#33194c"/><rect x="836.2" y="876.7" width="14.9" height="13.9" fill="#331748"/><rect x="850.5" y="876.7" width="14.9" height="13.9" fill="#33194b"/><rect x="864.8" y="876.7" width="14.9" height="13.9" fill="#341a4e"/><rect x="879.1" y="876.7" width="14.9" height="13.9" fill="#351d56"/><rect x="893.4" y="876.7" width="74.9" height="13.9" fill="#36205d"/><rect x="422.0" y="890.0" width="114.9" height="13.9" fill="#38266b"/><rect x="536.2" y="890.0" width="14.9" height="13.9" fill="#392972"/><rect x="550.5" y="890.0" width="14.9" height="13.9" fill="#3a2c79"/><rect x="564.8" y="890.0" width="14.9" height="13.9" fill="#3b3081"/><rect x="579.1" y="890.0" width="14.9" height="13.9" fill="#3d3488"/><rect x="593.4" y="890.0" width="14.9" height="13.9" fill="#4042a5"/><rect x="607.7" y="890.0" width="43.5" height="13.9" fill="#4350bd"/><rect x="650.5" y="890.0" width="14.9" height="13.9" fill="#4146ac"/><rect x="664.8" y="890.0" width="14.9" height="13.9" fill="#3f3c99"/><rect x="679.1" y="890.0" width="14.9" height="13.9" fill="#3e3a95"/><rect x="693.4" y="890.0" width="14.9" height="13.9" fill="#3e3790"/><rect x="707.7" y="890.0" width="14.9" height="13.9" fill="#4143a6"/><rect x="721.9" y="890.0" width="14.9" height="13.9" fill="#434eb9"/><rect x="736.2" y="890.0" width="14.9" height="13.9" fill="#4451bf"/><rect x="750.5" y="890.0" width="14.9" height="13.9" fill="#4455c4"/><rect x="764.8" y="890.0" width="14.9" height="13.9" fill="#4147ad"/><rect x="779.1" y="890.0" width="14.9" height="13.9" fill="#3e3892"/><rect x="793.4" y="890.0" width="14.9" height="13.9" fill="#3a2b75"/><rect x="807.7" y="890.0" width="14.9" height="13.9" fill="#351c54"/><rect x="821.9" y="890.0" width="14.9" height="13.9" fill="#341a4f"/><rect x="836.2" y="890.0" width="14.9" height="13.9" fill="#33194b"/><rect x="850.5" y="890.0" width="14.9" height="13.9" fill="#341b51"/><rect x="864.8" y="890.0" width="14.9" height="13.9" fill="#351e57"/><rect x="879.1" y="890.0" width="14.9" height="13.9" fill="#372261"/><rect x="893.4" y="890.0" width="74.9" height="13.9" fill="#38266b"/><rect x="422.0" y="903.3" width="114.9" height="13.9" fill="#392971"/><rect x="536.2" y="903.3" width="14.9" height="13.9" fill="#3a2c79"/><rect x="550.5" y="903.3" width="14.9" height="13.9" fill="#3b3081"/><rect x="564.8" y="903.3" width="14.9" height="13.9" fill="#3d3488"/><rect x="579.1" y="903.3" width="14.9" height="13.9" fill="#3e3790"/><rect x="593.4" y="903.3" width="14.9" height="13.9" fill="#4247ae"/><rect x="607.7" y="903.3" width="14.9" height="13.9" fill="#4457c8"/><rect x="622.0" y="903.3" width="14.9" height="13.9" fill="#4455c5"/><rect x="636.2" y="903.3" width="14.9" height="13.9" fill="#4453c3"/><rect x="650.5" y="903.3" width="14.9" height="13.9" fill="#4144a8"/><rect x="664.8" y="903.3" width="14.9" height="13.9" fill="#3d3488"/><rect x="679.1" y="903.3" width="14.9" height="13.9" fill="#3b2e7d"/><rect x="693.4" y="903.3" width="14.9" height="13.9" fill="#392971"/><rect x="707.7" y="903.3" width="14.9" height="13.9" fill="#3e3993"/><rect x="721.9" y="903.3" width="14.9" height="13.9" fill="#4249b1"/><rect x="736.2" y="903.3" width="14.9" height="13.9" fill="#4350bd"/><rect x="750.5" y="903.3" width="14.9" height="13.9" fill="#4457c8"/><rect x="764.8" y="903.3" width="14.9" height="13.9" fill="#424bb4"/><rect x="779.1" y="903.3" width="14.9" height="13.9" fill="#403e9e"/><rect x="793.4" y="903.3" width="14.9" height="13.9" fill="#3b2e7d"/><rect x="807.7" y="903.3" width="14.9" height="13.9" fill="#351e57"/><rect x="821.9" y="903.3" width="14.9" height="13.9" fill="#341c53"/><rect x="836.2" y="903.3" width="14.9" height="13.9" fill="#341a4e"/><rect x="850.5" y="903.3" width="14.9" height="13.9" fill="#351e57"/><rect x="864.8" y="903.3" width="14.9" height="13.9" fill="#362160"/><rect x="879.1" y="903.3" width="14.9" height="13.9" fill="#38276d"/><rect x="893.4" y="903.3" width="74.9" height="13.9" fill="#3a2c79"/><rect x="422.0" y="916.7" width="114.9" height="13.9" fill="#392a73"/><rect x="536.2" y="916.7" width="14.9" height="13.9" fill="#3b2e7d"/><rect x="550.5" y="916.7" width="14.9" height="13.9" fill="#3c3286"/><rect x="564.8" y="916.7" width="14.9" height="13.9" fill="#3e3891"/><rect x="579.1" y="916.7" width="14.9" height="13.9" fill="#3f3d9c"/><rect x="593.4" y="916.7" width="14.9" height="13.9" fill="#434eba"/><rect x="607.7" y="916.7" width="14.9" height="13.9" fill="#455fd3"/><rect x="622.0" y="916.7" width="14.9" height="13.9" fill="#455ccf"/><rect x="636.2" y="916.7" width="14.9" height="13.9" fill="#4559cb"/><rect x="650.5" y="916.7" width="14.9" height="13.9" fill="#4146ac"/><rect x="664.8" y="916.7" width="14.9" height="13.9" fill="#3c3286"/><rect x="679.1" y="916.7" width="14.9" height="13.9" fill="#3a2d7a"/><rect x="693.4" y="916.7" width="14.9" height="13.9" fill="#39276e"/><rect x="707.7" y="916.7" width="14.9" height="13.9" fill="#3d378f"/><rect x="721.9" y="916.7" width="14.9" height="13.9" fill="#4145ab"/><rect x="736.2" y="916.7" width="14.9" height="13.9" fill="#4350bd"/><rect x="750.5" y="916.7" width="14.9" height="13.9" fill="#455acd"/><rect x="764.8" y="916.7" width="14.9" height="13.9" fill="#434fbb"/><rect x="779.1" y="916.7" width="14.9" height="13.9" fill="#4143a7"/><rect x="793.4" y="916.7" width="14.9" height="13.9" fill="#3c3285"/><rect x="807.7" y="916.7" width="14.9" height="13.9" fill="#36205d"/><rect x="821.9" y="916.7" width="14.9" height="13.9" fill="#351e59"/><rect x="836.2" y="916.7" width="14.9" height="13.9" fill="#351c54"/><rect x="850.5" y="916.7" width="14.9" height="13.9" fill="#36215e"/><rect x="864.8" y="916.7" width="14.9" height="13.9" fill="#382568"/><rect x="879.1" y="916.7" width="14.9" height="13.9" fill="#3a2b75"/><rect x="893.4" y="916.7" width="74.9" height="13.9" fill="#3b3081"/><rect x="422.0" y="930.0" width="114.9" height="13.9" fill="#3a2b76"/><rect x="536.2" y="930.0" width="14.9" height="13.9" fill="#3b3081"/><rect x="550.5" y="930.0" width="14.9" height="13.9" fill="#3d358b"/><rect x="564.8" y="930.0" width="14.9" height="13.9" fill="#3f3c99"/><rect x="579.1" y="930.0" width="14.9" height="13.9" fill="#4143a7"/><rect x="593.4" y="930.0" width="14.9" height="13.9" fill="#4455c5"/><rect x="607.7" y="930.0" width="14.9" height="13.9" fill="#4667de"/><rect x="622.0" y="930.0" width="14.9" height="13.9" fill="#4663d9"/><rect x="636.2" y="930.0" width="14.9" height="13.9" fill="#455fd3"/><rect x="650.5" y="930.0" width="14.9" height="13.9" fill="#4248b0"/><rect x="664.8" y="930.0" width="14.9" height="13.9" fill="#3c3183"/><rect x="679.1" y="930.0" width="14.9" height="13.9" fill="#3a2c78"/><rect x="693.4" y="930.0" width="14.9" height="13.9" fill="#38266b"/><rect x="707.7" y="930.0" width="14.9" height="13.9" fill="#3d348a"/><rect x="721.9" y="930.0" width="14.9" height="13.9" fill="#4042a5"/><rect x="736.2" y="930.0" width="14.9" height="13.9" fill="#4350bd"/><rect x="750.5" y="930.0" width="14.9" height="13.9" fill="#455ed2"/><rect x="764.8" y="930.0" width="14.9" height="13.9" fill="#4453c2"/><rect x="779.1" y="930.0" width="14.9" height="13.9" fill="#4248af"/><rect x="793.4" y="930.0" width="14.9" height="13.9" fill="#3d358c"/><rect x="807.7" y="930.0" width="14.9" height="13.9" fill="#372363"/><rect x="821.9" y="930.0" width="14.9" height="13.9" fill="#36215e"/><rect x="836.2" y="930.0" width="14.9" height="13.9" fill="#351f5a"/><rect x="850.5" y="930.0" width="14.9" height="13.9" fill="#372466"/><rect x="864.8" y="930.0" width="14.9" height="13.9" fill="#392971"/><rect x="879.1" y="930.0" width="14.9" height="13.9" fill="#3b2e7d"/><rect x="893.4" y="930.0" width="74.9" height="13.9" fill="#3d3488"/><rect x="422.0" y="943.3" width="114.9" height="53.9" fill="#3a2c79"/><rect x="536.2" y="943.3" width="14.9" height="53.9" fill="#3c3285"/><rect x="550.5" y="943.3" width="14.9" height="53.9" fill="#3e3790"/><rect x="564.8" y="943.3" width="14.9" height="53.9" fill="#4040a1"/><rect x="579.1" y="943.3" width="14.9" height="53.9" fill="#4249b1"/><rect x="593.4" y="943.3" width="14.9" height="53.9" fill="#455ccf"/><rect x="607.7" y="943.3" width="14.9" height="53.9" fill="#476ee7"/><rect x="622.0" y="943.3" width="14.9" height="53.9" fill="#4669e1"/><rect x="636.2" y="943.3" width="14.9" height="53.9" fill="#4664db"/><rect x="650.5" y="943.3" width="14.9" height="53.9" fill="#424bb4"/><rect x="664.8" y="943.3" width="14.9" height="53.9" fill="#3b3081"/><rect x="679.1" y="943.3" width="14.9" height="53.9" fill="#3a2b75"/><rect x="693.4" y="943.3" width="14.9" height="53.9" fill="#382568"/><rect x="707.7" y="943.3" width="14.9" height="53.9" fill="#3c3285"/><rect x="721.9" y="943.3" width="14.9" height="53.9" fill="#403e9e"/><rect x="736.2" y="943.3" width="14.9" height="53.9" fill="#4350bd"/><rect x="750.5" y="943.3" width="14.9" height="53.9" fill="#4661d6"/><rect x="764.8" y="943.3" width="14.9" height="53.9" fill="#4457c8"/><rect x="779.1" y="943.3" width="14.9" height="53.9" fill="#434cb7"/><rect x="793.4" y="943.3" width="14.9" height="53.9" fill="#3e3993"/><rect x="807.7" y="943.3" width="14.9" height="53.9" fill="#382568"/><rect x="821.9" y="943.3" width="14.9" height="53.9" fill="#372364"/><rect x="836.2" y="943.3" width="14.9" height="53.9" fill="#362160"/><rect x="850.5" y="943.3" width="14.9" height="53.9" fill="#38276d"/><rect x="864.8" y="943.3" width="14.9" height="53.9" fill="#3a2c79"/><rect x="879.1" y="943.3" width="14.9" height="53.9" fill="#3c3285"/><rect x="893.4" y="943.3" width="74.9" height="53.9" fill="#3e3790"/></g></g>
<!--LAND-->
<defs><path id="land" d="M99.0 150.0L841.7 150.7L842.6 157.6L844.0 163.3L845.7 169.6L844.0 175.9L842.3 180.4L842.3 184.4L839.4 185.0L836.9 189.6L838.9 190.7L840.0 187.3L840.6 196.4L842.3 207.9L841.1 219.3L840.0 234.1L839.4 245.6L837.1 257.0L833.0 268.0L829.0 278.0L825.0 288.0L823.0 296.0L821.5 301.0L821.0 306.0L823.0 312.0L823.4 316.0L821.4 315.0L820.6 311.0L819.0 305.0L818.0 299.0L816.0 294.0L817.0 287.0L821.0 283.0L824.0 278.0L824.6 272.4L821.0 272.0L820.0 276.0L817.0 281.0L812.0 275.6L810.0 276.0L815.0 280.0L816.0 285.0L811.0 288.0L803.0 291.0L795.0 294.0L790.0 296.0L787.4 292.0L786.6 286.0L788.0 280.0L787.4 275.0L791.0 274.0L792.0 266.0L793.0 259.6L799.0 258.4L793.0 257.6L785.0 259.0L779.0 260.0L775.0 256.0L769.0 253.0L763.0 250.0L755.0 246.0L747.0 243.0L740.0 242.0L741.0 240.0L735.0 238.0L729.0 240.0L727.0 247.0L725.0 253.6L720.0 253.0L721.0 247.0L717.0 242.0L720.0 240.0L719.0 235.0L715.0 230.0L709.0 225.6L704.0 228.0L699.0 224.0L697.0 226.0L695.0 235.0L692.0 232.0L689.0 240.0L687.0 236.0L683.0 237.0L685.0 243.0L681.0 248.0L678.0 247.0L679.0 243.0L675.0 240.0L673.0 244.0L669.0 241.0L665.4 243.0L666.0 248.0L669.0 249.0L673.0 252.0L674.0 260.0L676.0 267.0L679.0 262.0L682.6 262.0L681.0 265.0L675.0 272.0L669.0 276.0L664.6 277.0L664.0 269.0L659.0 267.0L655.0 266.0L648.0 267.0L647.0 264.0L643.0 260.0L646.0 268.0L646.0 274.0L644.0 281.0L639.0 288.0L631.0 294.0L623.0 295.6L615.0 294.0L613.0 294.0L612.6 303.0L610.0 302.0L609.4 296.0L610.6 290.0L612.0 280.0L611.6 269.0L610.0 269.0L608.0 279.0L606.0 285.0L603.0 283.0L599.0 277.0L595.0 275.6L587.0 276.0L579.0 275.6L577.0 274.0L577.2 262.0L575.4 262.0L575.0 273.0L573.0 271.0L569.0 267.0L566.0 262.0L567.4 256.0L565.0 258.0L562.0 252.0L558.0 254.0L555.0 258.0L555.0 254.0L554.0 248.0L555.0 240.0L556.0 232.0L554.0 226.0L553.0 220.0L550.2 220.0L550.6 224.0L551.0 230.0L552.0 238.0L551.6 246.0L551.0 250.0L549.0 252.0L541.0 257.0L535.0 261.0L527.0 261.0L521.0 260.0L515.0 263.0L509.0 270.0L503.0 275.0L495.0 277.0L485.0 276.0L477.0 274.0L471.0 269.0L470.2 270.3L464.7 265.9L456.0 257.2L447.3 250.1L438.5 244.6L434.7 241.4L437.5 239.9L442.9 241.4L449.5 243.0L454.9 246.1L457.6 245.7L458.2 244.1L453.8 243.5L448.4 240.8L446.2 237.0L444.0 236.5L438.5 235.9L432.0 229.9L425.5 226.1L419.5 222.3L416.7 218.5L415.6 214.6L412.4 212.5L413.5 210.3L416.7 209.7L415.6 207.5L414.0 204.6L408.0 206.5L402.0 206.5L400.4 210.3L397.1 211.9L394.9 210.8L391.6 211.9L386.2 211.4L382.9 208.1L375.3 208.6L371.5 208.1L370.4 205.4L367.1 207.0L367.1 211.4L369.8 214.1L374.2 213.5L379.6 214.1L380.7 216.8L382.4 219.0L388.4 218.5L396.0 218.5L398.7 220.6L401.5 221.2L405.8 223.4L408.5 227.7L409.6 233.2L410.2 238.6L403.0 238.0L392.7 237.0L381.0 236.4L365.0 237.4L349.0 238.6L335.0 240.4L325.0 241.6L315.0 244.5L305.0 247.5L295.0 252.0L283.0 257.0L271.0 262.0L259.0 267.0L247.0 273.0L235.0 279.0L223.0 285.0L211.0 289.0L199.0 294.0L189.0 298.0L181.0 301.0L172.0 305.0L164.0 307.0L160.0 304.0L159.0 295.0L160.0 287.0L164.0 284.0L170.0 283.0L172.0 279.0L177.0 277.0L184.0 276.0L184.0 274.0L179.0 274.0L172.0 276.0L170.0 273.0L165.0 268.0L162.0 267.0L165.0 263.0L169.0 260.0L166.0 260.0L161.0 262.0L159.0 258.0L153.0 259.0L149.0 261.0L148.0 258.0L151.0 253.0L148.0 249.0L141.0 250.0L133.0 252.0L125.0 257.0L121.0 264.0L119.0 270.0L114.0 273.0L113.0 279.0L117.0 281.0L121.0 279.0L125.0 277.0L133.0 276.0L138.0 285.0L143.0 297.0L142.0 302.0L138.0 308.0L131.0 315.0L121.0 320.0L115.0 328.0L107.0 336.0L99.0 342.0ZM393.3 239.2L397.1 239.7L405.8 244.1L416.7 249.5L425.5 252.3L429.8 257.2L432.5 261.5L432.0 264.3L429.8 263.7L425.5 259.4L416.7 253.9L405.8 247.4L396.0 241.9ZM240.0 365.0L255.0 364.0L267.0 365.0L276.0 365.0L279.0 363.6L284.0 362.0L288.0 354.0L290.0 351.0L293.0 352.0L292.0 358.0L289.0 368.0L284.0 378.0L278.0 387.0L274.6 387.0L276.0 383.0L279.0 378.0L276.0 377.0L271.0 378.0L265.0 379.0L265.0 376.0L269.0 374.0L265.0 372.0L255.0 369.0L247.0 367.0ZM335.0 379.0L341.0 379.0L349.0 378.0L361.0 375.6L372.0 373.0L374.0 375.0L369.0 379.0L359.0 382.4L349.0 384.4L342.0 384.4L337.0 382.0ZM383.0 370.0L389.0 362.0L393.0 356.0L399.0 355.0L403.0 353.0L403.6 355.0L399.0 359.0L395.0 363.0L391.0 367.0L386.0 370.6ZM457.0 353.0L463.0 353.6L471.0 351.6L485.0 349.0L491.0 346.4L495.0 348.4L505.0 351.6L515.0 356.0L523.0 361.0L535.0 364.0L547.0 365.6L559.0 368.0L571.0 370.0L579.0 369.0L583.0 367.6L584.6 369.6L581.0 373.0L575.0 376.0L565.0 376.0L555.0 374.0L543.0 371.0L531.0 368.0L521.0 368.0L515.0 365.0L505.0 360.0L497.0 357.0L489.0 357.6L477.0 359.6L465.0 358.4L460.0 356.0ZM603.6 373.6L606.0 369.6L607.6 371.0L605.0 375.0ZM613.0 380.5L623.0 381.6L631.0 385.0L641.0 387.0L651.0 383.0L661.0 381.0L669.0 381.0L672.6 379.6L673.0 383.0L669.0 387.0L659.0 390.0L649.0 392.0L639.0 393.6L631.0 390.0L623.0 386.0L617.0 384.0ZM563.0 279.0L570.0 277.6L575.0 277.0L577.4 280.0L578.6 286.0L582.0 292.0L586.0 298.0L588.0 301.0L585.0 301.0L581.0 296.0L578.0 293.0L573.0 293.6L568.0 291.0L564.6 286.0L563.0 282.0ZM562.6 309.6L565.0 309.6L568.6 314.0L567.0 316.6L564.0 316.0ZM550.0 260.0L552.0 255.0L555.0 258.0L558.0 254.0L562.0 252.0L564.0 255.0L561.0 260.0L556.0 266.0L551.0 267.0L550.0 263.0ZM751.0 255.0L754.0 253.6L755.4 257.0L754.0 264.0L755.0 274.0L756.0 284.0L755.4 291.0L752.0 291.0L749.4 286.0L747.4 281.0L750.0 278.0L748.6 272.0L750.6 266.0L750.0 260.0ZM716.0 363.0L721.0 361.6L735.0 361.0L745.0 359.0L755.0 356.0L771.0 352.4L785.0 349.6L799.0 347.6L811.0 345.6L819.0 344.0L823.0 343.0L826.0 340.0L828.0 344.0L833.0 338.0L835.0 336.0L837.0 340.0L843.0 342.0L849.0 343.0L855.0 347.0L858.0 350.0L853.0 354.0L843.0 355.0L835.0 353.0L825.0 351.0L815.0 350.0L803.0 351.0L791.0 352.0L775.0 355.0L759.0 359.0L747.0 363.0L735.0 366.4L725.0 368.0L718.0 367.0ZM825.0 320.0L828.0 321.0L833.0 326.0L841.0 333.0L849.0 341.0L854.0 346.0L851.0 345.0L843.0 338.0L835.0 332.0L829.0 327.0L826.0 323.0ZM842.0 375.6L844.0 377.0L848.0 381.0L855.0 385.6L863.0 388.0L863.4 390.0L858.0 389.6L850.0 385.6L844.0 381.0L841.4 377.6ZM869.4 390.0L872.0 385.6L873.6 387.0L871.0 391.0ZM883.0 368.0L885.0 364.0L891.0 362.4L899.0 361.6L903.0 361.5L903.0 369.6L899.0 369.6L891.0 371.0L886.0 373.0L883.0 372.4ZM217.2 419.5L223.0 419.5L224.9 424.5L223.0 428.2L218.6 429.6L216.5 434.7L212.8 438.4L209.9 439.8L207.7 436.2L209.2 434.0L212.8 433.3L215.0 427.5L216.5 423.1ZM200.5 427.5L202.6 427.2L207.7 433.3L206.7 434.4L203.4 431.8ZM199.0 441.3L203.4 439.1L207.7 441.3L209.2 444.2L207.0 448.5L204.1 452.2L201.9 452.2L200.5 453.6L199.0 455.8L196.8 452.2L195.4 447.8L196.1 444.9ZM188.1 451.5L190.3 452.2L190.3 458.0L188.1 463.8L188.1 468.2L191.0 471.1L195.4 471.1L199.0 468.2L199.7 474.0L199.0 479.8L201.2 482.7L202.6 487.1L203.4 492.9L201.9 497.3L201.2 503.1L203.4 504.5L206.3 500.2L207.7 497.3L209.9 492.2L211.4 492.9L211.4 498.7L213.5 500.2L217.2 500.2L217.9 495.1L219.4 494.4L220.1 497.3L228.8 497.3L231.0 500.2L228.1 503.1L221.5 503.8L219.4 506.0L220.1 509.6L217.9 514.7L214.3 518.4L209.9 522.7L209.2 527.8L207.0 532.9L204.8 533.6L205.5 527.8L207.7 522.7L205.5 520.5L203.4 522.7L201.9 522.0L204.1 518.4L201.2 516.9L199.0 519.1L198.3 524.9L200.5 529.3L202.6 533.6L204.8 538.0L209.9 540.9L213.5 546.7L209.9 550.4L207.7 554.0L203.4 556.2L201.2 554.0L202.6 549.6L200.5 546.7L199.0 541.6L199.7 538.0L197.5 533.6L195.4 528.5L191.7 524.9L191.0 522.0L193.9 518.4L192.5 515.5L189.5 513.3L191.0 508.9L193.2 506.0L191.7 502.4L193.2 497.3L195.4 492.9L196.8 488.5L195.4 485.6L193.9 489.3L190.3 490.7L188.1 490.0L187.4 494.4L185.2 500.2L182.3 500.9L179.4 498.7L174.3 497.3L170.6 498.7L167.0 503.1L166.3 508.9L167.0 514.7L170.6 514.0L174.3 509.6L177.9 505.3L180.8 507.5L178.6 511.8L175.7 516.2L172.8 520.5L171.4 524.9L172.8 530.0L171.4 532.9L168.5 528.5L167.0 523.5L165.5 519.1L162.6 516.2L163.4 510.4L162.6 504.5L163.4 500.9L160.5 500.2L157.5 503.1L159.0 508.9L159.0 516.2L156.8 518.4L153.2 517.6L151.0 514.0L152.5 510.4L150.3 507.5L147.4 506.0L144.5 507.5L140.1 510.4L140.8 516.2L140.1 520.5L137.9 521.3L135.7 517.6L133.5 514.0L131.4 511.8L132.8 509.6L136.5 508.9L135.7 505.3L132.1 506.0L127.7 508.2L124.1 506.7L126.3 505.3L129.9 502.4L135.7 500.2L141.5 498.0L145.2 497.3L148.1 494.4L149.5 489.3L152.5 490.7L153.9 485.6L154.6 476.2L156.8 475.5L157.5 482.7L158.3 488.5L161.9 490.7L166.3 490.0L167.7 486.4L164.8 484.2L161.9 484.2L160.5 481.3L162.6 479.1L167.0 481.3L170.6 479.8L169.9 476.2L164.1 476.9L159.7 473.3L163.4 471.1L169.2 466.7L173.5 463.8L178.6 459.5L183.7 455.8L186.6 452.9ZM100.1 506.7L111.0 506.0L116.8 506.7L116.1 510.4L113.2 512.5L112.5 516.9L115.4 519.1L114.6 523.5L109.5 522.0L106.6 524.9L100.1 525.6L100.1 520.5L105.2 519.1L105.2 514.0L100.1 512.5ZM229.5 513.0L231.7 513.6L228.8 518.4L224.5 523.5L221.5 525.6L220.1 524.2L223.0 519.8L226.6 515.5ZM111.0 536.5L114.6 536.5L115.4 540.2L119.0 540.9L121.9 543.1L125.5 544.5L126.3 547.5L123.4 548.2L119.0 546.7L115.4 544.5L112.5 547.5L110.3 545.3L109.5 541.6ZM132.1 553.8L136.5 553.8L137.2 558.9L135.7 562.5L138.6 566.2L137.2 569.8L133.5 569.1L130.6 572.0L127.7 571.3L124.1 572.7L123.4 577.8L126.3 582.2L124.8 586.5L121.9 589.5L122.6 596.7L121.2 597.5L119.7 591.6L116.8 588.0L119.0 584.4L120.5 579.3L119.0 573.5L116.8 568.4L119.0 564.0L123.4 565.5L126.3 569.1L129.9 567.6L131.4 563.3L133.1 558.9ZM100.1 579.3L108.8 580.7L109.5 576.4L112.5 577.1L111.7 582.2L108.8 586.5L104.5 585.1L100.1 583.6ZM100.1 589.5L102.3 589.5L106.6 593.8L109.5 599.6L110.3 608.4L112.5 618.5L114.6 625.8L116.8 633.1L116.8 636.7L113.9 633.1L111.0 633.1L108.1 636.7L108.8 640.4L113.9 639.6L119.0 638.9L121.9 640.4L125.5 638.9L125.5 634.5L128.5 630.2L127.7 624.4L126.3 620.7L129.9 619.3L134.3 622.9L137.9 623.6L138.6 627.3L135.7 630.9L132.1 631.6L130.6 636.0L131.4 640.4L129.2 644.7L127.7 646.9L130.6 645.5L134.3 641.8L136.5 637.5L140.1 633.8L144.5 633.8L145.2 637.5L141.5 640.4L137.2 642.5L134.3 645.5L135.0 649.1L138.6 652.0L143.0 650.5L148.1 648.4L150.3 644.7L155.4 644.7L159.7 646.9L163.4 646.2L168.5 644.0L169.9 648.4L174.3 650.5L177.9 647.6L180.1 644.7L177.9 641.8L177.2 638.9L180.1 638.9L182.3 641.8L188.1 641.8L191.7 639.6L192.5 646.2L190.3 649.8L185.9 650.5L182.3 652.7L180.8 656.4L176.5 657.8L174.3 654.2L170.6 654.9L172.8 660.0L174.3 665.8L175.0 670.9L170.6 671.6L166.3 669.5L164.1 666.5L167.0 663.6L163.4 660.7L159.7 658.5L154.6 658.5L153.2 661.5L156.1 662.9L153.2 665.1L150.3 668.0L145.9 670.2L144.5 673.8L147.4 678.2L150.3 684.0L151.7 690.0L138.6 690.0L136.5 685.5L131.4 681.8L129.9 679.6L134.3 678.2L138.6 676.0L141.5 671.6L138.6 670.2L136.5 668.0L132.8 668.7L132.1 672.4L129.2 671.6L126.3 669.5L127.7 665.1L126.3 662.2L124.1 665.8L122.6 670.9L118.3 671.6L113.9 673.8L109.5 674.5L110.3 671.6L114.6 669.5L118.3 670.2L121.2 668.7L116.8 668.0L112.5 670.2L108.8 673.8L105.2 678.2L108.8 681.8L109.5 686.9L108.1 690.0L100.1 690.0ZM169.9 554.5L175.0 555.3L174.3 561.8L172.1 567.6L172.8 573.5L169.2 580.7L167.7 586.5L164.8 590.9L160.5 594.5L157.5 598.2L156.1 604.0L152.5 608.4L148.8 612.7L145.2 617.1L143.0 620.7L137.9 621.5L139.4 616.4L141.5 613.5L145.2 614.2L146.6 609.8L151.0 604.0L153.9 598.2L156.1 592.4L156.8 586.5L159.0 581.5L162.6 577.1L166.3 571.3L169.2 566.2L170.6 560.4ZM179.4 552.4L183.7 551.6L184.5 558.9L183.7 569.1L182.3 574.9L179.4 576.4L178.6 572.7L180.8 567.6L177.9 568.4L175.0 566.2L177.9 563.3L180.8 558.9L180.1 554.5ZM182.3 585.8L185.2 585.1L184.5 592.4L182.3 596.0L177.9 594.5L174.3 597.5L176.5 601.1L183.7 601.8L183.7 604.7L177.9 606.9L172.1 607.6L167.7 609.8L164.8 612.7L161.2 615.6L159.0 619.3L159.0 623.6L162.6 624.4L161.2 628.7L157.5 631.6L153.2 634.5L150.3 636.0L149.5 633.8L153.2 630.9L156.1 627.3L154.6 624.4L151.0 625.1L147.4 628.0L144.5 630.2L145.2 625.8L148.8 622.9L153.2 619.3L156.1 614.9L160.5 611.3L163.4 606.9L167.7 602.5L170.6 598.2L173.5 593.8L177.9 590.2ZM186.6 592.4L193.9 591.6L196.8 589.5L197.5 591.6L193.9 595.3L192.5 599.6L194.6 604.0L196.1 608.4L193.9 607.6L191.0 605.5L186.6 606.2ZM195.4 569.8L198.3 570.5L200.5 574.9L199.0 578.5L195.4 579.3L191.0 582.2L187.4 586.5L186.6 582.9L189.5 579.3L193.9 576.4L196.1 573.5ZM199.7 561.8L202.6 561.8L204.8 566.2L201.9 567.6L197.5 566.2ZM209.2 580.7L215.7 579.3L220.1 582.2L218.6 585.8L213.5 587.3L211.4 584.4ZM197.5 635.3L202.6 632.4L209.9 630.9L215.7 631.6L215.0 634.5L209.9 636.0L207.0 638.2L205.5 636.7L201.2 636.7L198.3 637.5ZM175.0 613.5L179.4 612.0L183.7 612.7L184.0 617.1L180.8 617.8L177.2 616.4ZM133.5 578.5L137.9 578.5L138.6 582.2L135.7 584.4L133.1 582.2ZM140.8 584.4L145.2 583.6L146.6 586.5L145.2 591.6L142.3 593.8L140.4 590.2ZM147.4 574.9L151.7 574.9L152.5 577.1L149.5 579.3L148.8 582.2L145.9 580.7ZM121.9 601.8L126.3 601.8L127.7 606.9L126.3 612.7L124.8 616.4L121.9 612.7L121.2 606.9ZM156.8 551.6L164.1 550.9L165.5 554.5L161.2 556.7L157.5 557.5ZM205.5 596.0L209.9 595.3L213.5 598.2L211.4 599.6L207.7 598.2ZM208.5 605.5L212.1 601.8L215.0 602.5L213.5 606.2L210.6 608.1ZM100.1 670.0L124.1 670.0L126.3 674.4L122.6 675.8L118.3 675.1L112.5 677.3L108.1 680.2L109.5 684.5L107.4 688.9L100.1 689.6ZM132.1 670.0L144.5 670.0L145.9 675.8L145.2 681.6L148.8 686.0L152.5 691.8L153.9 696.9L151.0 698.4L148.8 693.3L145.9 691.8L144.5 694.7L141.5 691.8L138.6 693.3L136.5 691.1L138.6 687.5L136.5 683.1L132.8 680.2L133.5 675.8ZM151.0 672.9L154.6 672.2L156.8 676.5L158.7 681.6L156.8 686.7L154.6 685.3L153.9 679.5L151.0 676.5ZM174.3 688.9L177.9 686.7L182.3 685.3L188.1 685.7L191.7 688.9L190.3 692.5L185.9 694.0L180.8 693.3L177.9 695.5L174.3 695.5L172.8 691.8ZM100.1 693.3L108.1 692.5L113.9 688.9L120.5 687.5L122.6 691.8L126.3 694.0L130.6 695.5L133.1 699.8L131.4 701.3L127.7 699.1L124.1 700.5L121.9 703.5L116.8 703.5L111.0 701.3L105.9 698.4L100.1 697.6ZM100.1 701.3L106.6 702.7L111.0 705.6L114.6 708.5L118.3 707.1L121.2 710.0L126.3 709.3L130.6 710.7L133.5 713.6L135.7 718.7L138.6 721.6L142.3 722.4L145.2 719.5L148.1 720.2L151.7 718.0L152.5 712.9L155.4 710.0L159.0 708.5L163.4 706.4L167.7 703.7L170.6 703.5L170.6 707.8L173.5 710.7L174.7 712.9L172.1 714.4L169.5 712.9L169.2 709.3L164.8 710.0L161.9 712.9L160.5 716.5L159.0 720.2L163.4 720.9L167.0 721.6L166.3 724.5L163.4 726.0L163.4 729.6L164.8 734.0L167.7 737.6L171.4 739.8L173.5 742.0L172.8 744.2L169.9 742.7L167.0 740.5L162.6 742.0L159.0 744.2L153.9 745.3L151.7 742.0L147.4 742.0L145.2 736.9L143.0 732.5L138.6 728.2L134.3 726.0L129.2 725.3L124.1 726.0L120.5 726.7L118.3 728.9L115.4 726.0L111.7 723.1L108.1 720.2L104.5 719.5L100.1 720.9ZM113.2 751.5L118.3 750.7L124.1 751.5L126.3 754.4L129.9 756.5L128.7 761.6L126.3 762.4L123.4 759.5L119.7 758.0L118.3 755.1L116.1 757.3L113.9 755.1ZM113.2 760.9L116.8 759.5L118.3 761.6L115.4 763.8L112.7 763.1ZM174.3 751.5L176.7 751.5L177.9 757.3L179.4 763.1L179.8 768.2L177.9 767.7L175.0 765.3L174.0 761.6L174.7 756.5ZM100.1 795.8L103.7 798.0L105.9 801.6L108.1 803.5L105.9 805.6L103.0 803.8L100.1 802.4ZM396.7 505.5L400.5 505.5L406.2 511.2L411.9 519.8L417.6 531.2L422.4 542.6L425.2 552.1L428.1 565.5L430.4 578.8L432.3 594.0L433.4 609.3L433.8 624.5L433.4 639.8L431.9 655.0L430.0 670.2L427.1 685.5L425.7 687.6L422.9 699.0L419.0 710.5L415.2 721.9L411.4 733.3L407.6 742.9L403.8 751.4L399.0 760.0L394.3 769.5L388.6 779.0L383.8 788.6L377.1 798.1L371.4 805.7L365.7 813.3L360.0 821.9L357.7 820.0L359.0 816.2L361.0 810.5L364.8 806.7L369.1 802.9L371.4 799.0L373.3 794.3L377.1 791.4L381.0 786.7L383.8 779.0L386.7 773.3L390.9 769.5L393.3 761.9L396.2 756.2L400.0 751.4L401.0 746.7L402.9 742.9L402.3 735.2L404.8 728.6L408.6 725.7L406.7 721.0L402.9 719.0L402.9 715.2L406.7 715.2L411.4 712.4L413.7 706.7L410.5 704.8L406.7 705.7L406.7 702.9L411.4 700.0L416.2 697.1L418.1 691.4L417.5 685.7L417.6 685.5L419.5 677.9L418.6 672.1L421.4 666.4L422.4 660.7L418.6 659.8L416.7 657.9L418.6 654.0L422.4 652.1L425.2 647.4L423.3 641.7L426.2 636.0L425.2 628.3L428.1 622.6L425.2 616.9L427.1 609.3L424.3 603.6L426.2 597.9L422.4 594.0L421.4 588.3L423.3 584.5L419.5 580.7L421.4 575.0L419.5 569.3L420.9 561.7L418.2 557.9L418.6 551.2L416.3 545.5L415.7 538.8L411.9 531.2L408.1 523.6L403.3 516.0L398.6 510.2L396.3 506.8ZM394.8 629.3L398.6 629.9L401.4 633.1L401.0 641.7L398.6 648.3L395.7 651.2L395.3 645.5L397.2 639.8L394.8 637.9L392.9 641.7L389.0 645.5L383.3 650.2L378.6 655.0L373.8 659.8L370.0 662.6L368.7 660.7L371.9 656.9L376.7 652.1L381.4 646.4L387.1 640.7L391.0 635.0ZM401.4 660.7L405.2 658.8L407.1 663.6L408.1 671.2L406.2 673.1L404.3 669.3L403.3 663.6L399.5 662.6L396.7 667.4L395.7 664.5L398.6 661.7ZM340.0 837.1L343.8 838.1L347.6 834.3L351.4 831.4L352.8 833.3L350.5 837.1L346.7 841.0L342.9 844.8L339.0 847.6L337.1 845.7L339.0 841.9ZM339.0 693.3L341.9 692.4L342.9 697.1L345.7 700.0L344.8 701.9L341.3 701.3L340.6 708.6L339.0 715.2L338.1 720.4L336.2 719.0L336.8 712.4L337.5 704.8L338.1 698.1ZM270.4 933.8L271.8 933.5L274.0 934.2L276.5 930.9L279.1 926.5L281.3 921.5L283.8 915.6L287.1 911.3L290.0 905.5L293.6 903.3L296.5 899.6L299.5 897.5L303.8 896.4L304.9 897.5L304.2 899.6L300.9 900.0L298.0 901.8L295.1 905.5L292.2 909.1L289.6 914.2L287.1 919.3L284.9 924.4L282.7 928.7L279.8 932.4L276.2 935.6L273.3 937.5L271.1 937.5L270.2 936.0ZM380.2 212.5a2.2 1.8 0 1 0 4.4 0a2.2 1.8 0 1 0 -4.4 0ZM391.1 213.6a2.2 1.6 0 1 0 4.4 0a2.2 1.6 0 1 0 -4.4 0ZM395.9 217.3a3.0 2.0 0 1 0 6.0 0a3.0 2.0 0 1 0 -6.0 0ZM588.2 305.0a2.2 1.8 0 1 0 4.4 0a2.2 1.8 0 1 0 -4.4 0ZM649.8 291.4a2.8 2.0 0 1 0 5.6 0a2.8 2.0 0 1 0 -5.6 0ZM701.8 237.4a4.2 1.9 0 1 0 8.4 0a4.2 1.9 0 1 0 -8.4 0ZM730.4 252.4a1.6 1.4 0 1 0 3.2 0a1.6 1.4 0 1 0 -3.2 0ZM542.5 259.0a2.5 1.5 0 1 0 5.0 0a2.5 1.5 0 1 0 -5.0 0ZM769.0 293.0a3.0 2.0 0 1 0 6.0 0a3.0 2.0 0 1 0 -6.0 0ZM778.3 294.0a1.7 2.4 0 1 0 3.4 0a1.7 2.4 0 1 0 -3.4 0ZM783.1 284.6a1.3 2.0 0 1 0 2.6 0a1.3 2.0 0 1 0 -2.6 0ZM173.1 540.9a1.2 1.9 0 1 0 2.3 0a1.2 1.9 0 1 0 -2.3 0ZM155.1 543.8a1.0 1.3 0 1 0 2.0 0a1.0 1.3 0 1 0 -2.0 0ZM162.3 546.7a1.0 1.0 0 1 0 2.0 0a1.0 1.0 0 1 0 -2.0 0ZM146.3 523.7a1.7 1.0 0 1 0 3.5 0a1.7 1.0 0 1 0 -3.5 0ZM180.7 512.5a0.9 0.9 0 1 0 1.7 0a0.9 0.9 0 1 0 -1.7 0ZM156.8 520.5a0.7 0.7 0 1 0 1.5 0a0.7 0.7 0 1 0 -1.5 0ZM146.6 520.5a0.7 0.7 0 1 0 1.5 0a0.7 0.7 0 1 0 -1.5 0ZM213.3 460.2a1.0 0.9 0 1 0 2.0 0a1.0 0.9 0 1 0 -2.0 0ZM226.6 457.3a1.0 0.9 0 1 0 2.0 0a1.0 0.9 0 1 0 -2.0 0ZM204.1 477.6a1.5 1.2 0 1 0 2.9 0a1.5 1.2 0 1 0 -2.9 0ZM142.6 546.7a1.9 1.0 0 1 0 3.8 0a1.9 1.0 0 1 0 -3.8 0ZM152.0 548.2a1.2 0.7 0 1 0 2.3 0a1.2 0.7 0 1 0 -2.3 0ZM131.2 511.8a0.9 0.7 0 1 0 1.7 0a0.9 0.7 0 1 0 -1.7 0ZM144.0 514.7a1.2 0.7 0 1 0 2.3 0a1.2 0.7 0 1 0 -2.3 0ZM225.8 582.5a0.9 0.7 0 1 0 1.7 0a0.9 0.7 0 1 0 -1.7 0ZM227.8 625.8a1.0 0.9 0 1 0 2.0 0a1.0 0.9 0 1 0 -2.0 0ZM191.6 635.6a0.9 0.9 0 1 0 1.7 0a0.9 0.9 0 1 0 -1.7 0ZM195.8 585.4a1.7 1.0 0 1 0 3.5 0a1.7 1.0 0 1 0 -3.5 0ZM111.7 601.5a0.7 0.7 0 1 0 1.5 0a0.7 0.7 0 1 0 -1.5 0ZM129.5 611.3a1.2 0.9 0 1 0 2.3 0a1.2 0.9 0 1 0 -2.3 0ZM129.0 704.5a1.6 1.0 0 1 0 3.2 0a1.6 1.0 0 1 0 -3.2 0ZM125.7 680.2a1.0 0.7 0 1 0 2.0 0a1.0 0.7 0 1 0 -2.0 0ZM367.5 668.0a1.2 1.2 0 1 0 2.4 0a1.2 1.2 0 1 0 -2.4 0ZM353.0 821.5a1.0 1.0 0 1 0 1.9 0a1.0 1.0 0 1 0 -1.9 0ZM353.3 829.1a1.0 1.0 0 1 0 1.9 0a1.0 1.0 0 1 0 -1.9 0ZM330.9 852.4a1.5 1.5 0 1 0 3.0 0a1.5 1.5 0 1 0 -3.0 0ZM341.0 686.7a1.0 1.0 0 1 0 1.9 0a1.0 1.0 0 1 0 -1.9 0Z"/></defs>
<use href="#land" fill="none" stroke="#00160a" stroke-width="1.9" stroke-linejoin="round"/>
<use href="#land" fill="#0e6b24" stroke="none"/>
<path d="M99.0 280.2L106.0 281.8L112.0 280.3L113.0 279.0L110.0 279.6L106.0 280.6L99.0 279.2ZM180.1 478.4L183.7 477.6L185.9 481.3L185.9 491.5L183.0 492.9L180.8 488.5L178.6 484.2ZM192.5 479.8L196.8 480.5L196.1 485.6L193.9 484.9ZM121.9 646.9L124.8 646.2L124.8 649.8L121.9 649.8ZM140.1 654.9L145.9 652.0L153.2 652.0L150.3 654.9L144.5 656.4L141.5 658.5ZM153.9 659.3L159.0 659.3L159.0 662.2L154.6 662.9ZM175.7 690.4L179.4 689.6L179.1 691.8L176.5 692.5ZM110.3 694.7L115.4 696.2L114.6 697.9L111.0 696.9Z" fill="#808080" stroke="#001a05" stroke-width="0.9" stroke-linejoin="round"/>
<path d="M273.6 262.4L273.0 270.0L275.0 274.0M277.0 261.0L276.6 268.0M279.4 260.0L280.6 267.0M118.3 709.3L125.5 716.5L134.3 726.0M153.2 712.2L154.6 720.9L155.4 731.1M121.2 716.5L124.8 720.2M148.8 732.5L153.2 734.0M391.9 660.7L393.4 665.5" fill="none" stroke="#000" stroke-width="1.1"/>
<!--ARROWS-->
<path d="M551.8 541.0L564.3 550.5L555.6 556.2ZM622.4 542.8L615.2 556.8L608.1 549.2ZM672.4 539.2L677.0 554.2L666.7 553.8ZM732.2 542.3L731.5 558.0L721.8 554.1ZM778.2 547.2L793.9 547.2L790.5 557.0ZM834.5 546.5L850.2 547.1L846.4 556.8ZM550.9 635.5L559.1 622.1L565.7 630.2ZM608.2 620.5L620.9 629.7L612.4 635.6ZM668.5 617.4L677.5 630.3L667.5 633.1ZM720.0 618.6L733.3 626.9L725.2 633.4ZM777.3 621.0L791.4 627.9L784.0 635.2ZM846.0 620.5L847.1 636.1L837.1 633.4ZM898.2 619.5L906.4 632.8L896.3 635.1ZM557.3 719.2L552.7 704.2L563.1 704.6ZM603.3 701.7L618.3 706.1L612.3 714.6ZM670.9 695.0L677.2 709.4L666.8 710.1ZM725.5 698.6L734.9 711.1L725.0 714.3ZM776.9 704.0L792.2 707.7L786.5 716.4ZM832.2 709.5L847.2 705.0L846.8 715.4ZM892.4 704.0L907.4 708.6L901.2 717.0ZM550.0 795.5L559.0 782.7L565.1 791.1ZM602.7 785.0L618.4 785.8L614.4 795.5ZM664.2 776.3L676.0 786.6L667.0 791.7ZM720.0 781.0L734.2 787.7L726.9 795.1ZM777.3 783.7L792.4 788.0L786.4 796.5ZM832.2 788.3L847.6 785.4L846.1 795.7ZM890.9 790.8L905.2 784.4L906.1 794.8ZM550.0 863.2L564.5 869.1L557.7 876.9ZM614.5 852.3L620.0 867.0L609.6 867.2ZM679.5 853.2L678.2 868.8L668.7 864.6ZM724.5 850.5L733.0 863.7L722.8 866.1ZM779.1 860.0L791.9 869.1L783.4 875.1ZM835.1 869.5L850.2 865.2L849.6 875.6ZM493.6 943.0L507.7 949.9L500.3 957.2ZM545.6 943.4L561.1 945.9L556.1 955.1ZM612.0 926.0L618.9 940.1L608.6 941.3ZM669.6 934.0L676.9 947.9L666.7 949.4ZM739.6 938.0L733.8 952.6L725.9 945.7ZM788.4 935.0L791.4 950.4L781.1 948.9Z" fill="#000"/>
<path d="M672.0 710.0L672.0 709.8M672.0 790.0L671.5 789.2M614.8 870.0L614.8 867.1M672.0 870.0L673.5 866.7M729.1 870.0L727.9 864.9M614.8 950.0L613.7 940.7M672.0 950.0L671.8 948.6M729.1 950.0L729.9 949.1M786.2 950.0L786.3 949.6" stroke="#000" stroke-width="1.6" fill="none"/>
<g stroke="#d0d0d0" stroke-opacity="0.85" stroke-width="2.1" fill="none">
<path d="M185.8 150V950"/><path d="M328.7 150V950"/><path d="M471.5 150V950"/><path d="M614.4 150V950"/><path d="M757.2 150V950"/><path d="M100 350.1H901"/><path d="M100 550.1H901"/><path d="M100 750.1H901"/></g>
<!--MARKS-->
<circle cx="283" cy="341" r="6.2" fill="#fff" stroke="#000" stroke-width="1.95"/><circle cx="459" cy="488.5" r="6.2" fill="#fff" stroke="#000" stroke-width="1.95"/><circle cx="566.5" cy="488.5" r="6.2" fill="#fff" stroke="#000" stroke-width="1.95"/><path d="M142.4 282.9L148.5 289L142.4 295.1L136.3 289Z" fill="#ffff1a" stroke="#000" stroke-width="2.2"/><path d="M578 249.5L584.1 255.6L578 261.7L571.9 255.6Z" fill="#ffff1a" stroke="#000" stroke-width="2.2"/><path d="M660 256.9L666.1 263L660 269.1L653.9 263Z" fill="#ffff1a" stroke="#000" stroke-width="2.2"/><path d="M611.4 373.9L617.5 380L611.4 386.1L605.3 380Z" fill="#ffff1a" stroke="#000" stroke-width="2.2"/><path d="M778 337.5L784.1 343.6L778 349.70000000000005L771.9 343.6Z" fill="#ffff1a" stroke="#000" stroke-width="2.2"/><path d="M820 297.5L826.1 303.6L820 309.70000000000005L813.9 303.6Z" fill="#ffff1a" stroke="#000" stroke-width="2.2"/><path d="M857 343.5L863.1 349.6L857 355.70000000000005L850.9 349.6Z" fill="#ffff1a" stroke="#000" stroke-width="2.2"/>
</g>
<rect x="100.3" y="150.35" width="800.05" height="799.95" fill="none" stroke="#000" stroke-width="2.75"/>
<path d="M100.10 150.3v-4.2M100.10 950.3v4.2M114.39 150.3v-4.2M114.39 950.3v4.2M128.67 150.3v-4.2M128.67 950.3v4.2M142.96 150.3v-4.2M142.96 950.3v4.2M157.24 150.3v-4.2M157.24 950.3v4.2M171.53 150.3v-4.2M171.53 950.3v4.2M185.81 150.3v-8.0M185.81 950.3v8.0M200.10 150.3v-4.2M200.10 950.3v4.2M214.39 150.3v-4.2M214.39 950.3v4.2M228.67 150.3v-4.2M228.67 950.3v4.2M242.96 150.3v-4.2M242.96 950.3v4.2M257.24 150.3v-4.2M257.24 950.3v4.2M271.53 150.3v-4.2M271.53 950.3v4.2M285.81 150.3v-4.2M285.81 950.3v4.2M300.10 150.3v-4.2M300.10 950.3v4.2M314.39 150.3v-4.2M314.39 950.3v4.2M328.67 150.3v-8.0M328.67 950.3v8.0M342.96 150.3v-4.2M342.96 950.3v4.2M357.24 150.3v-4.2M357.24 950.3v4.2M371.53 150.3v-4.2M371.53 950.3v4.2M385.81 150.3v-4.2M385.81 950.3v4.2M400.10 150.3v-4.2M400.10 950.3v4.2M414.39 150.3v-4.2M414.39 950.3v4.2M428.67 150.3v-4.2M428.67 950.3v4.2M442.96 150.3v-4.2M442.96 950.3v4.2M457.24 150.3v-4.2M457.24 950.3v4.2M471.53 150.3v-8.0M471.53 950.3v8.0M485.81 150.3v-4.2M485.81 950.3v4.2M500.10 150.3v-4.2M500.10 950.3v4.2M514.39 150.3v-4.2M514.39 950.3v4.2M528.67 150.3v-4.2M528.67 950.3v4.2M542.96 150.3v-4.2M542.96 950.3v4.2M557.24 150.3v-4.2M557.24 950.3v4.2M571.53 150.3v-4.2M571.53 950.3v4.2M585.81 150.3v-4.2M585.81 950.3v4.2M600.10 150.3v-4.2M600.10 950.3v4.2M614.39 150.3v-8.0M614.39 950.3v8.0M628.67 150.3v-4.2M628.67 950.3v4.2M642.96 150.3v-4.2M642.96 950.3v4.2M657.24 150.3v-4.2M657.24 950.3v4.2M671.53 150.3v-4.2M671.53 950.3v4.2M685.81 150.3v-4.2M685.81 950.3v4.2M700.10 150.3v-4.2M700.10 950.3v4.2M714.39 150.3v-4.2M714.39 950.3v4.2M728.67 150.3v-4.2M728.67 950.3v4.2M742.96 150.3v-4.2M742.96 950.3v4.2M757.24 150.3v-8.0M757.24 950.3v8.0M771.53 150.3v-4.2M771.53 950.3v4.2M785.81 150.3v-4.2M785.81 950.3v4.2M800.10 150.3v-4.2M800.10 950.3v4.2M814.39 150.3v-4.2M814.39 950.3v4.2M828.67 150.3v-4.2M828.67 950.3v4.2M842.96 150.3v-4.2M842.96 950.3v4.2M857.24 150.3v-4.2M857.24 950.3v4.2M871.53 150.3v-4.2M871.53 950.3v4.2M885.81 150.3v-4.2M885.81 950.3v4.2M900.10 150.3v-8.0M900.10 950.3v8.0M100.3 150.10h-8.0M900.3 150.10h8.0M100.3 170.10h-4.2M900.3 170.10h4.2M100.3 190.10h-4.2M900.3 190.10h4.2M100.3 210.10h-4.2M900.3 210.10h4.2M100.3 230.10h-4.2M900.3 230.10h4.2M100.3 250.10h-4.2M900.3 250.10h4.2M100.3 270.10h-4.2M900.3 270.10h4.2M100.3 290.10h-4.2M900.3 290.10h4.2M100.3 310.10h-4.2M900.3 310.10h4.2M100.3 330.10h-4.2M900.3 330.10h4.2M100.3 350.10h-8.0M900.3 350.10h8.0M100.3 370.10h-4.2M900.3 370.10h4.2M100.3 390.10h-4.2M900.3 390.10h4.2M100.3 410.10h-4.2M900.3 410.10h4.2M100.3 430.10h-4.2M900.3 430.10h4.2M100.3 450.10h-4.2M900.3 450.10h4.2M100.3 470.10h-4.2M900.3 470.10h4.2M100.3 490.10h-4.2M900.3 490.10h4.2M100.3 510.10h-4.2M900.3 510.10h4.2M100.3 530.10h-4.2M900.3 530.10h4.2M100.3 550.10h-8.0M900.3 550.10h8.0M100.3 570.10h-4.2M900.3 570.10h4.2M100.3 590.10h-4.2M900.3 590.10h4.2M100.3 610.10h-4.2M900.3 610.10h4.2M100.3 630.10h-4.2M900.3 630.10h4.2M100.3 650.10h-4.2M900.3 650.10h4.2M100.3 670.10h-4.2M900.3 670.10h4.2M100.3 690.10h-4.2M900.3 690.10h4.2M100.3 710.10h-4.2M900.3 710.10h4.2M100.3 730.10h-4.2M900.3 730.10h4.2M100.3 750.10h-8.0M900.3 750.10h8.0M100.3 770.10h-4.2M900.3 770.10h4.2M100.3 790.10h-4.2M900.3 790.10h4.2M100.3 810.10h-4.2M900.3 810.10h4.2M100.3 830.10h-4.2M900.3 830.10h4.2M100.3 850.10h-4.2M900.3 850.10h4.2M100.3 870.10h-4.2M900.3 870.10h4.2M100.3 890.10h-4.2M900.3 890.10h4.2M100.3 910.10h-4.2M900.3 910.10h4.2M100.3 930.10h-4.2M900.3 930.10h4.2M100.3 950.10h-8.0M900.3 950.10h8.0" stroke="#000" stroke-width="1.6" fill="none"/>
<text class="a" x="185.6" y="135.4" text-anchor="middle" textLength="36.5" lengthAdjust="spacingAndGlyphs">−89°15'</text><text class="a" x="185.6" y="973.3" text-anchor="middle" textLength="36.5" lengthAdjust="spacingAndGlyphs">−89°15'</text>
<text class="a" x="328.5" y="135.4" text-anchor="middle" textLength="37.6" lengthAdjust="spacingAndGlyphs">−89°00'</text><text class="a" x="328.5" y="973.3" text-anchor="middle" textLength="37.6" lengthAdjust="spacingAndGlyphs">−89°00'</text>
<text class="a" x="471.3" y="135.4" text-anchor="middle" textLength="36.5" lengthAdjust="spacingAndGlyphs">−88°45'</text><text class="a" x="471.3" y="973.3" text-anchor="middle" textLength="36.5" lengthAdjust="spacingAndGlyphs">−88°45'</text>
<text class="a" x="614.2" y="135.4" text-anchor="middle" textLength="36.5" lengthAdjust="spacingAndGlyphs">−88°30'</text><text class="a" x="614.2" y="973.3" text-anchor="middle" textLength="36.5" lengthAdjust="spacingAndGlyphs">−88°30'</text>
<text class="a" x="757.0" y="135.4" text-anchor="middle" textLength="36.5" lengthAdjust="spacingAndGlyphs">−88°15'</text><text class="a" x="757.0" y="973.3" text-anchor="middle" textLength="36.5" lengthAdjust="spacingAndGlyphs">−88°15'</text>
<text class="a" x="899.9" y="135.4" text-anchor="middle" textLength="37.6" lengthAdjust="spacingAndGlyphs">−88°00'</text><text class="a" x="899.9" y="973.3" text-anchor="middle" textLength="37.6" lengthAdjust="spacingAndGlyphs">−88°00'</text>
<text class="a" x="84.4" y="154.0" text-anchor="end" textLength="30.5" lengthAdjust="spacingAndGlyphs">30°30'</text><text class="a" x="915" y="154.0" textLength="30.9" lengthAdjust="spacingAndGlyphs">30°30'</text>
<text class="a" x="84.4" y="354.0" text-anchor="end" textLength="30.5" lengthAdjust="spacingAndGlyphs">30°15'</text><text class="a" x="915" y="354.0" textLength="30.9" lengthAdjust="spacingAndGlyphs">30°15'</text>
<text class="a" x="84.4" y="554.0" text-anchor="end" textLength="30.5" lengthAdjust="spacingAndGlyphs">30°00'</text><text class="a" x="915" y="554.0" textLength="30.9" lengthAdjust="spacingAndGlyphs">30°00'</text>
<text class="a" x="84.4" y="754.0" text-anchor="end" textLength="30.5" lengthAdjust="spacingAndGlyphs">29°45'</text><text class="a" x="915" y="754.0" textLength="30.9" lengthAdjust="spacingAndGlyphs">29°45'</text>
<text class="a" x="84.4" y="954.0" text-anchor="end" textLength="30.5" lengthAdjust="spacingAndGlyphs">29°30'</text><text class="a" x="915" y="954.0" textLength="30.9" lengthAdjust="spacingAndGlyphs">29°30'</text>
<rect x="980.3" y="400" width="20.2" height="300" fill="url(#cb)"/><rect x="980.3" y="400" width="20.2" height="300" fill="#000" fill-opacity="0.07"/>
<rect x="980.3" y="400" width="20.2" height="300" fill="none" stroke="#000" stroke-width="2.4"/>
<path d="M979.2 670H999.4M979.2 640H999.4M979.2 610H999.4M979.2 580H999.4M979.2 550H999.4M979.2 520H999.4M979.2 490H999.4M979.2 460H999.4M979.2 430H999.4" stroke="#d8d8d8" stroke-opacity="0.62" stroke-width="1.7" fill="none"/>
<path d="M979.2 700H999.4M979.2 400H999.4" stroke="#c8c8c8" stroke-opacity="0.8" stroke-width="1.2" fill="none"/>
<path d="M1000.5 399V701" stroke="#000" stroke-width="2.4" fill="none"/>
<text class="a" x="1015" y="703.9" textLength="14.8" lengthAdjust="spacingAndGlyphs">0.0</text><text class="a" x="1015" y="673.9" textLength="14.8" lengthAdjust="spacingAndGlyphs">0.2</text><text class="a" x="1015" y="643.9" textLength="14.8" lengthAdjust="spacingAndGlyphs">0.4</text><text class="a" x="1015" y="613.9" textLength="14.8" lengthAdjust="spacingAndGlyphs">0.6</text><text class="a" x="1015" y="583.9" textLength="14.8" lengthAdjust="spacingAndGlyphs">0.8</text><text class="a" x="1015" y="553.9" textLength="14.8" lengthAdjust="spacingAndGlyphs">1.0</text><text class="a" x="1015" y="523.9" textLength="14.8" lengthAdjust="spacingAndGlyphs">1.2</text><text class="a" x="1015" y="493.9" textLength="14.8" lengthAdjust="spacingAndGlyphs">1.4</text><text class="a" x="1015" y="463.9" textLength="14.8" lengthAdjust="spacingAndGlyphs">1.6</text><text class="a" x="1015" y="433.9" textLength="14.8" lengthAdjust="spacingAndGlyphs">1.8</text><text class="a" x="1015" y="403.9" textLength="14.8" lengthAdjust="spacingAndGlyphs">2.0</text>
<path d="M1001 700h7.9M1001 670h7.9M1001 640h7.9M1001 610h7.9M1001 580h7.9M1001 550h7.9M1001 520h7.9M1001 490h7.9M1001 460h7.9M1001 430h7.9M1001 400h7.9" stroke="#111" stroke-width="1.35" fill="none"/>
<text class="t" font-size="13.95" text-anchor="middle" textLength="67.5" lengthAdjust="spacingAndGlyphs" transform="translate(1055.3 550) rotate(-90)">Speed (kt)</text>
</svg>
</body></html>
